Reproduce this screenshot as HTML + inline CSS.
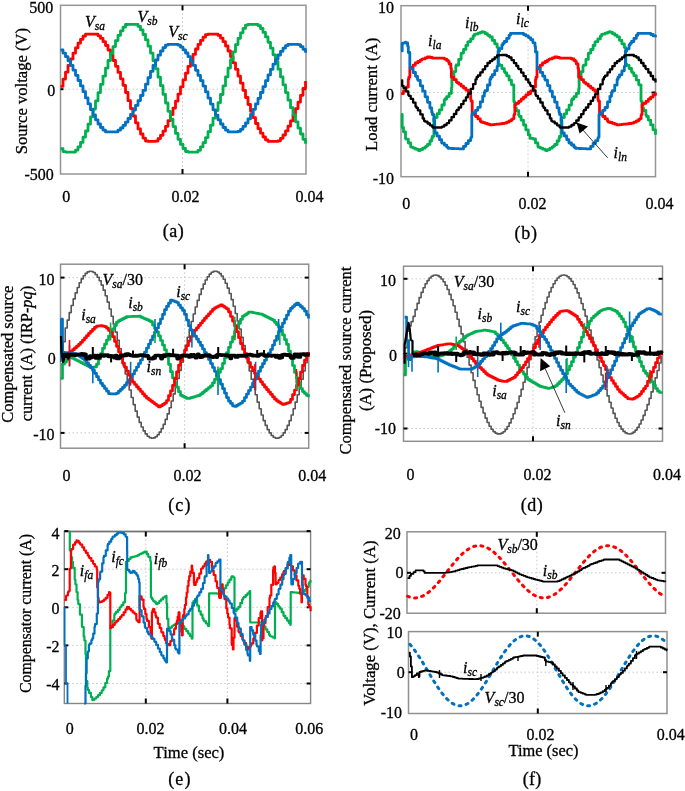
<!DOCTYPE html>
<html><head><meta charset="utf-8"><style>
html,body{margin:0;padding:0;background:#fff;}
body{width:685px;height:791px;overflow:hidden;font-family:"Liberation Serif",serif;}
svg{display:block;will-change:transform;}
text{font-family:"Liberation Serif",serif;stroke:#000;stroke-width:0.3px;}
</style></head><body>
<svg width="685" height="791" viewBox="0 0 685 791" font-family="Liberation Serif" fill="#000"><rect x="60.5" y="5.3" width="245.5" height="168.7" fill="none" stroke="#959595" stroke-width="1.5"/>
<line x1="60.5" y1="89.2" x2="306" y2="89.2" stroke="#c8c8c8" stroke-width="1" stroke-dasharray="1.5,2.5"/>
<line x1="182.5" y1="5.3" x2="182.5" y2="174" stroke="#c8c8c8" stroke-width="1" stroke-dasharray="1.5,2.5"/>
<line x1="182.5" y1="169" x2="182.5" y2="174" stroke="#000" stroke-width="2"/>
<line x1="182.5" y1="5.3" x2="182.5" y2="10.3" stroke="#000" stroke-width="2"/>
<line x1="60.5" y1="89.2" x2="63.5" y2="89.2" stroke="#000" stroke-width="2"/>
<line x1="302" y1="89.2" x2="306" y2="89.2" stroke="#000" stroke-width="2"/>
<text x="53.3" y="12.7" text-anchor="end" font-size="16" >500</text>
<text x="55.2" y="96" text-anchor="end" font-size="16" >0</text>
<text x="53.8" y="179.7" text-anchor="end" font-size="16" >-500</text>
<text x="66.3" y="201.5" text-anchor="middle" font-size="16" >0</text>
<text x="185.5" y="201.5" text-anchor="middle" font-size="16" >0.02</text>
<text x="309.5" y="201.5" text-anchor="middle" font-size="16" >0.04</text>
<text x="173.3" y="237.2" text-anchor="middle" font-size="18" textLength="21.1" lengthAdjust="spacing">(a)</text>
<text x="0" y="0" transform="translate(26.8,91.15) rotate(-90)" text-anchor="middle" font-size="16" textLength="126.4" lengthAdjust="spacingAndGlyphs" >Source voltage (V)</text>
<polyline points="60.5,86.4 63.0,86.4 63.0,79.2 65.5,79.2 65.5,72.2 68.0,72.2 68.0,65.4 70.5,65.4 70.5,59.0 73.0,59.0 73.0,53.2 75.5,53.2 75.5,47.8 78.0,47.8 78.0,43.2 80.5,43.2 80.5,39.3 83.0,39.3 83.0,36.2 85.5,36.2 85.5,34.2 88.0,34.2 90.5,34.2 93.0,34.2 95.5,34.2 98.0,34.2 98.0,35.8 100.5,35.8 100.5,38.4 103.0,38.4 103.0,41.7 105.5,41.7 105.5,45.5 108.0,45.5 108.0,50.0 110.5,50.0 110.5,55.0 113.0,55.0 113.0,60.5 115.5,60.5 115.5,66.3 118.0,66.3 118.0,72.4 120.5,72.4 120.5,78.8 123.0,78.8 123.0,85.3 125.5,85.3 125.5,92.5 128.0,92.5 128.0,100.7 130.5,100.7 130.5,108.6 133.0,108.6 133.0,116.0 135.5,116.0 135.5,122.8 138.0,122.8 138.0,128.9 140.5,128.9 140.5,134.0 143.0,134.0 143.0,138.1 145.5,138.1 145.5,141.0 148.0,141.0 148.0,141.4 150.5,141.4 153.0,141.4 155.5,141.4 155.5,141.1 158.0,141.1 158.0,138.6 160.5,138.6 160.5,135.3 163.0,135.3 163.0,131.1 165.5,131.1 165.5,126.3 168.0,126.3 168.0,120.7 170.5,120.7 170.5,114.6 173.0,114.6 173.0,108.1 175.5,108.1 175.5,101.2 178.0,101.2 178.0,94.1 180.5,94.1 180.5,86.9 183.0,86.9 183.0,79.9 185.5,79.9 185.5,73.1 188.0,73.1 188.0,66.4 190.5,66.4 190.5,60.2 193.0,60.2 193.0,54.4 195.5,54.4 195.5,49.0 198.0,49.0 198.0,44.4 200.5,44.4 200.5,40.4 203.0,40.4 203.0,37.2 205.5,37.2 205.5,34.7 208.0,34.7 208.0,34.2 210.5,34.2 213.0,34.2 215.5,34.2 218.0,34.2 218.0,35.4 220.5,35.4 220.5,38.1 223.0,38.1 223.0,41.7 225.5,41.7 225.5,46.0 228.0,46.0 228.0,51.0 230.5,51.0 230.5,56.6 233.0,56.6 233.0,62.8 235.5,62.8 235.5,69.3 238.0,69.3 238.0,76.1 240.5,76.1 240.5,83.2 243.0,83.2 243.0,90.4 245.5,90.4 245.5,97.5 248.0,97.5 248.0,104.5 250.5,104.5 250.5,111.3 253.0,111.3 253.0,117.6 255.5,117.6 255.5,123.5 258.0,123.5 258.0,128.7 260.5,128.7 260.5,133.2 263.0,133.2 263.0,137.0 265.5,137.0 265.5,139.9 268.0,139.9 268.0,141.4 270.5,141.4 273.0,141.4 275.5,141.4 278.0,141.4 278.0,140.8 280.5,140.8 280.5,138.3 283.0,138.3 283.0,135.0 285.5,135.0 285.5,130.9 288.0,130.9 288.0,126.2 290.5,126.2 290.5,120.9 293.0,120.9 293.0,115.0 295.5,115.0 295.5,108.7 298.0,108.7 298.0,102.1 300.5,102.1 300.5,95.3 303.0,95.3 303.0,88.3 305.5,88.3 305.5,81.0" fill="none" stroke="#ff0000" stroke-width="2.8" stroke-linejoin="round" stroke-linecap="butt" />
<polyline points="60.5,148.7 63.0,148.7 63.0,151.6 65.5,151.6 65.5,152.1 68.0,152.1 70.5,152.1 73.0,152.1 75.5,152.1 75.5,150.2 78.0,150.2 78.0,146.8 80.5,146.8 80.5,142.4 83.0,142.4 83.0,137.1 85.5,137.1 85.5,131.0 88.0,131.0 88.0,124.2 90.5,124.2 90.5,116.9 93.0,116.9 93.0,109.1 95.5,109.1 95.5,100.9 98.0,100.9 98.0,92.6 100.5,92.6 100.5,84.3 103.0,84.3 103.0,76.1 105.5,76.1 105.5,68.1 108.0,68.1 108.0,60.5 110.5,60.5 110.5,53.3 113.0,53.3 113.0,46.6 115.5,46.6 115.5,40.6 118.0,40.6 118.0,35.3 120.5,35.3 120.5,30.8 123.0,30.8 123.0,27.2 125.5,27.2 125.5,24.5 128.0,24.5 128.0,24.3 130.5,24.3 133.0,24.3 135.5,24.3 138.0,24.3 138.0,26.4 140.5,26.4 140.5,29.9 143.0,29.9 143.0,34.5 145.5,34.5 145.5,39.9 148.0,39.9 148.0,46.2 150.5,46.2 150.5,53.1 153.0,53.1 153.0,60.7 155.5,60.7 155.5,68.8 158.0,68.8 158.0,77.2 160.5,77.2 160.5,85.7 163.0,85.7 163.0,94.4 165.5,94.4 165.5,103.0 168.0,103.0 168.0,111.3 170.5,111.3 170.5,119.2 173.0,119.2 173.0,126.6 175.5,126.6 175.5,133.4 178.0,133.4 178.0,139.3 180.5,139.3 180.5,144.4 183.0,144.4 183.0,148.5 185.5,148.5 185.5,151.5 188.0,151.5 188.0,152.1 190.5,152.1 193.0,152.1 195.5,152.1 198.0,152.1 198.0,150.3 200.5,150.3 200.5,146.9 203.0,146.9 203.0,142.7 205.5,142.7 205.5,137.6 208.0,137.6 208.0,131.7 210.5,131.7 210.5,125.2 213.0,125.2 213.0,118.1 215.5,118.1 215.5,110.5 218.0,110.5 218.0,102.6 220.5,102.6 220.5,94.5 223.0,94.5 223.0,85.9 225.5,85.9 225.5,76.9 228.0,76.9 228.0,68.1 230.5,68.1 230.5,59.7 233.0,59.7 233.0,51.8 235.5,51.8 235.5,44.6 238.0,44.6 238.0,38.3 240.5,38.3 240.5,32.8 243.0,32.8 243.0,28.4 245.5,28.4 245.5,25.1 248.0,25.1 248.0,24.3 250.5,24.3 253.0,24.3 255.5,24.3 258.0,24.3 258.0,25.6 260.5,25.6 260.5,28.5 263.0,28.5 263.0,32.4 265.5,32.4 265.5,36.9 268.0,36.9 268.0,42.3 270.5,42.3 270.5,48.2 273.0,48.2 273.0,54.8 275.5,54.8 275.5,61.8 278.0,61.8 278.0,69.2 280.5,69.2 280.5,76.9 283.0,76.9 283.0,84.8 285.5,84.8 285.5,92.6 288.0,92.6 288.0,100.2 290.5,100.2 290.5,107.7 293.0,107.7 293.0,114.9 295.5,114.9 295.5,121.8 298.0,121.8 298.0,128.1 300.5,128.1 300.5,134.0 303.0,134.0 303.0,139.3 305.5,139.3 305.5,143.8" fill="none" stroke="#00b050" stroke-width="2.8" stroke-linejoin="round" stroke-linecap="butt" />
<polyline points="60.5,49.9 63.0,49.9 63.0,53.1 65.5,53.1 65.5,56.7 68.0,56.7 68.0,60.8 70.5,60.8 70.5,65.3 73.0,65.3 73.0,70.2 75.5,70.2 75.5,75.3 78.0,75.3 78.0,80.5 80.5,80.5 80.5,85.9 83.0,85.9 83.0,91.7 85.5,91.7 85.5,97.9 88.0,97.9 88.0,103.9 90.5,103.9 90.5,109.7 93.0,109.7 93.0,115.0 95.5,115.0 95.5,119.8 98.0,119.8 98.0,124.0 100.5,124.0 100.5,127.5 103.0,127.5 103.0,130.2 105.5,130.2 105.5,131.9 108.0,131.9 110.5,131.9 113.0,131.9 115.5,131.9 115.5,131.8 118.0,131.8 118.0,130.2 120.5,130.2 120.5,128.0 123.0,128.0 123.0,125.3 125.5,125.3 125.5,122.1 128.0,122.1 128.0,118.5 130.5,118.5 130.5,114.4 133.0,114.4 133.0,110.1 135.5,110.1 135.5,105.4 138.0,105.4 138.0,100.6 140.5,100.6 140.5,95.5 143.0,95.5 143.0,90.4 145.5,90.4 145.5,84.2 148.0,84.2 148.0,77.6 150.5,77.6 150.5,71.4 153.0,71.4 153.0,65.4 155.5,65.4 155.5,60.0 158.0,60.0 158.0,55.2 160.5,55.2 160.5,51.0 163.0,51.0 163.0,47.6 165.5,47.6 165.5,45.1 168.0,45.1 168.0,44.3 170.5,44.3 173.0,44.3 175.5,44.3 178.0,44.3 178.0,45.2 180.5,45.2 180.5,47.2 183.0,47.2 183.0,49.9 185.5,49.9 185.5,53.0 188.0,53.0 188.0,56.7 190.5,56.7 190.5,60.9 193.0,60.9 193.0,65.4 195.5,65.4 195.5,70.3 198.0,70.3 198.0,75.4 200.5,75.4 200.5,80.7 203.0,80.7 203.0,86.1 205.5,86.1 205.5,91.9 208.0,91.9 208.0,98.1 210.5,98.1 210.5,104.1 213.0,104.1 213.0,109.8 215.5,109.8 215.5,115.1 218.0,115.1 218.0,119.8 220.5,119.8 220.5,124.0 223.0,124.0 223.0,127.5 225.5,127.5 225.5,130.2 228.0,130.2 228.0,131.8 230.5,131.8 230.5,131.9 233.0,131.9 235.5,131.9 238.0,131.9 238.0,131.4 240.5,131.4 240.5,129.3 243.0,129.3 243.0,126.4 245.5,126.4 245.5,123.0 248.0,123.0 248.0,118.9 250.5,118.9 250.5,114.3 253.0,114.3 253.0,109.3 255.5,109.3 255.5,103.9 258.0,103.9 258.0,98.3 260.5,98.3 260.5,92.5 263.0,92.5 263.0,86.6 265.5,86.6 265.5,80.7 268.0,80.7 268.0,74.9 270.5,74.9 270.5,69.3 273.0,69.3 273.0,64.1 275.5,64.1 275.5,59.3 278.0,59.3 278.0,55.0 280.5,55.0 280.5,51.3 283.0,51.3 283.0,48.2 285.5,48.2 285.5,45.7 288.0,45.7 288.0,44.3 290.5,44.3 293.0,44.3 295.5,44.3 298.0,44.3 298.0,44.6 300.5,44.6 300.5,46.6 303.0,46.6 303.0,49.3 305.5,49.3 305.5,52.7" fill="none" stroke="#0070c0" stroke-width="2.8" stroke-linejoin="round" stroke-linecap="butt" />
<text x="85" y="26.5" font-size="16" font-style="italic">V<tspan font-size="11.5" dy="3">sa</tspan></text>
<text x="137.5" y="21.8" font-size="16" font-style="italic">V<tspan font-size="11.5" dy="3">sb</tspan></text>
<text x="168.2" y="37.2" font-size="16" font-style="italic">V<tspan font-size="11.5" dy="3">sc</tspan></text>
<rect x="401" y="5.7" width="254.5" height="171.0" fill="none" stroke="#959595" stroke-width="1.5"/>
<line x1="401" y1="92.5" x2="655.5" y2="92.5" stroke="#c8c8c8" stroke-width="1" stroke-dasharray="1.5,2.5"/>
<line x1="528" y1="5.7" x2="528" y2="176.7" stroke="#c8c8c8" stroke-width="1" stroke-dasharray="1.5,2.5"/>
<line x1="528" y1="171.7" x2="528" y2="176.7" stroke="#000" stroke-width="2"/>
<line x1="528" y1="5.7" x2="528" y2="10.7" stroke="#000" stroke-width="2"/>
<line x1="651.5" y1="92.5" x2="655.5" y2="92.5" stroke="#000" stroke-width="2"/>
<text x="394" y="13.2" text-anchor="end" font-size="16" >10</text>
<text x="394" y="99.8" text-anchor="end" font-size="16" >0</text>
<text x="394" y="183.9" text-anchor="end" font-size="16" >-10</text>
<text x="406.3" y="209" text-anchor="middle" font-size="16" >0</text>
<text x="532.5" y="209" text-anchor="middle" font-size="16" >0.02</text>
<text x="659.5" y="209" text-anchor="middle" font-size="16" >0.04</text>
<text x="525.8" y="239.4" text-anchor="middle" font-size="18" textLength="22.6" lengthAdjust="spacing">(b)</text>
<text x="0" y="0" transform="translate(377,94.35) rotate(-90)" text-anchor="middle" font-size="16" textLength="113.1" lengthAdjust="spacingAndGlyphs" >Load current (A)</text>
<rect x="60.5" y="264.2" width="248.2" height="184.0" fill="none" stroke="#909090" stroke-width="1.5"/>
<line x1="60.5" y1="277.6" x2="308.7" y2="277.6" stroke="#c8c8c8" stroke-width="1" stroke-dasharray="1.5,2.5"/>
<line x1="60.5" y1="277.6" x2="64.5" y2="277.6" stroke="#000" stroke-width="2"/>
<line x1="304.7" y1="277.6" x2="308.7" y2="277.6" stroke="#000" stroke-width="2"/>
<line x1="60.5" y1="355.5" x2="308.7" y2="355.5" stroke="#c8c8c8" stroke-width="1" stroke-dasharray="1.5,2.5"/>
<line x1="60.5" y1="355.5" x2="64.5" y2="355.5" stroke="#000" stroke-width="2"/>
<line x1="304.7" y1="355.5" x2="308.7" y2="355.5" stroke="#000" stroke-width="2"/>
<line x1="60.5" y1="432.9" x2="308.7" y2="432.9" stroke="#c8c8c8" stroke-width="1" stroke-dasharray="1.5,2.5"/>
<line x1="60.5" y1="432.9" x2="64.5" y2="432.9" stroke="#000" stroke-width="2"/>
<line x1="304.7" y1="432.9" x2="308.7" y2="432.9" stroke="#000" stroke-width="2"/>
<line x1="184.6" y1="264.2" x2="184.6" y2="448.2" stroke="#c8c8c8" stroke-width="1" stroke-dasharray="1.5,2.5"/>
<line x1="184.6" y1="443.2" x2="184.6" y2="448.2" stroke="#000" stroke-width="2"/>
<line x1="184.6" y1="264.2" x2="184.6" y2="269.2" stroke="#000" stroke-width="2"/>
<text x="54.5" y="284.8" text-anchor="end" font-size="16" >10</text>
<text x="55.7" y="363.9" text-anchor="end" font-size="16" >0</text>
<text x="54.5" y="439.6" text-anchor="end" font-size="16" >-10</text>
<text x="66.5" y="480.6" text-anchor="middle" font-size="16" >0</text>
<text x="187.5" y="480.6" text-anchor="middle" font-size="16" >0.02</text>
<text x="312.3" y="480.6" text-anchor="middle" font-size="16" >0.04</text>
<text x="179.35" y="510.9" text-anchor="middle" font-size="18" textLength="22.2" lengthAdjust="spacing">(c)</text>
<text x="0" y="0" transform="translate(12.8,354.1) rotate(-90)" text-anchor="middle" font-size="16" textLength="137.1" lengthAdjust="spacingAndGlyphs" >Compensated source</text>
<text x="0" y="0" transform="translate(32.3,353.5) rotate(-90)" text-anchor="middle" font-size="16" textLength="135.4" lengthAdjust="spacingAndGlyphs" >current (A) (IRP-<tspan font-style="italic">pq</tspan>)</text>
<rect x="403.5" y="266.2" width="259.0" height="175.10000000000002" fill="none" stroke="#909090" stroke-width="1.5"/>
<line x1="403.5" y1="278.8" x2="662.5" y2="278.8" stroke="#c8c8c8" stroke-width="1" stroke-dasharray="1.5,2.5"/>
<line x1="403.5" y1="278.8" x2="407.5" y2="278.8" stroke="#000" stroke-width="2"/>
<line x1="658.5" y1="278.8" x2="662.5" y2="278.8" stroke="#000" stroke-width="2"/>
<line x1="403.5" y1="353.6" x2="662.5" y2="353.6" stroke="#c8c8c8" stroke-width="1" stroke-dasharray="1.5,2.5"/>
<line x1="403.5" y1="353.6" x2="407.5" y2="353.6" stroke="#000" stroke-width="2"/>
<line x1="658.5" y1="353.6" x2="662.5" y2="353.6" stroke="#000" stroke-width="2"/>
<line x1="403.5" y1="428.5" x2="662.5" y2="428.5" stroke="#c8c8c8" stroke-width="1" stroke-dasharray="1.5,2.5"/>
<line x1="403.5" y1="428.5" x2="407.5" y2="428.5" stroke="#000" stroke-width="2"/>
<line x1="658.5" y1="428.5" x2="662.5" y2="428.5" stroke="#000" stroke-width="2"/>
<line x1="533" y1="266.2" x2="533" y2="441.3" stroke="#c8c8c8" stroke-width="1" stroke-dasharray="1.5,2.5"/>
<line x1="533" y1="436.3" x2="533" y2="441.3" stroke="#000" stroke-width="2"/>
<line x1="533" y1="266.2" x2="533" y2="271.2" stroke="#000" stroke-width="2"/>
<text x="396" y="285.6" text-anchor="end" font-size="16" >10</text>
<text x="397" y="361.3" text-anchor="end" font-size="16" >0</text>
<text x="396" y="433.9" text-anchor="end" font-size="16" >-10</text>
<text x="410.6" y="479.7" text-anchor="middle" font-size="16" >0</text>
<text x="537.5" y="479.7" text-anchor="middle" font-size="16" >0.02</text>
<text x="667" y="479.7" text-anchor="middle" font-size="16" >0.04</text>
<text x="531.8" y="510.9" text-anchor="middle" font-size="18" textLength="22.0" lengthAdjust="spacing">(d)</text>
<text x="0" y="0" transform="translate(351,360.55) rotate(-90)" text-anchor="middle" font-size="16" textLength="187.9" lengthAdjust="spacingAndGlyphs" >Compensated source current</text>
<text x="0" y="0" transform="translate(371.4,360.55) rotate(-90)" text-anchor="middle" font-size="16" textLength="101.1" lengthAdjust="spacingAndGlyphs" >(A) (Proposed)</text>
<rect x="64.3" y="531.5" width="246.3" height="172.0" fill="none" stroke="#858585" stroke-width="1.4"/>
<line x1="64.3" y1="531.5" x2="310.6" y2="531.5" stroke="#727272" stroke-width="1.5"/>
<line x1="64.3" y1="531.0999999999999" x2="68.3" y2="531.0999999999999" stroke="#000" stroke-width="2"/>
<line x1="306.6" y1="531.0999999999999" x2="310.6" y2="531.0999999999999" stroke="#000" stroke-width="2"/>
<line x1="64.3" y1="569.1999999999999" x2="310.6" y2="569.1999999999999" stroke="#c8c8c8" stroke-width="1" stroke-dasharray="1.5,2.5"/>
<line x1="64.3" y1="569.1999999999999" x2="68.3" y2="569.1999999999999" stroke="#000" stroke-width="2"/>
<line x1="306.6" y1="569.1999999999999" x2="310.6" y2="569.1999999999999" stroke="#000" stroke-width="2"/>
<line x1="64.3" y1="607.3" x2="310.6" y2="607.3" stroke="#c8c8c8" stroke-width="1" stroke-dasharray="1.5,2.5"/>
<line x1="64.3" y1="607.3" x2="68.3" y2="607.3" stroke="#000" stroke-width="2"/>
<line x1="306.6" y1="607.3" x2="310.6" y2="607.3" stroke="#000" stroke-width="2"/>
<line x1="64.3" y1="645.4" x2="310.6" y2="645.4" stroke="#c8c8c8" stroke-width="1" stroke-dasharray="1.5,2.5"/>
<line x1="64.3" y1="645.4" x2="68.3" y2="645.4" stroke="#000" stroke-width="2"/>
<line x1="306.6" y1="645.4" x2="310.6" y2="645.4" stroke="#000" stroke-width="2"/>
<line x1="64.3" y1="683.5" x2="310.6" y2="683.5" stroke="#c8c8c8" stroke-width="1" stroke-dasharray="1.5,2.5"/>
<line x1="64.3" y1="683.5" x2="68.3" y2="683.5" stroke="#000" stroke-width="2"/>
<line x1="306.6" y1="683.5" x2="310.6" y2="683.5" stroke="#000" stroke-width="2"/>
<line x1="145.8" y1="531.5" x2="145.8" y2="703.5" stroke="#c8c8c8" stroke-width="1" stroke-dasharray="1.5,2.5"/>
<line x1="145.8" y1="698.5" x2="145.8" y2="703.5" stroke="#000" stroke-width="2"/>
<line x1="145.8" y1="531.5" x2="145.8" y2="536.5" stroke="#000" stroke-width="2"/>
<line x1="227.4" y1="531.5" x2="227.4" y2="703.5" stroke="#c8c8c8" stroke-width="1" stroke-dasharray="1.5,2.5"/>
<line x1="227.4" y1="698.5" x2="227.4" y2="703.5" stroke="#000" stroke-width="2"/>
<line x1="227.4" y1="531.5" x2="227.4" y2="536.5" stroke="#000" stroke-width="2"/>
<text x="59.5" y="538.5999999999999" text-anchor="end" font-size="16" >4</text>
<text x="59.5" y="575.4999999999999" text-anchor="end" font-size="16" >2</text>
<text x="59.5" y="613.5999999999999" text-anchor="end" font-size="16" >0</text>
<text x="59.5" y="651.6999999999999" text-anchor="end" font-size="16" >-2</text>
<text x="59.5" y="689.8" text-anchor="end" font-size="16" >-4</text>
<text x="69.8" y="734" text-anchor="middle" font-size="16" >0</text>
<text x="150.5" y="734" text-anchor="middle" font-size="16" >0.02</text>
<text x="233" y="734" text-anchor="middle" font-size="16" >0.04</text>
<text x="309.2" y="734" text-anchor="middle" font-size="16" >0.06</text>
<text x="189" y="757.8" text-anchor="middle" font-size="16" textLength="70.8" lengthAdjust="spacingAndGlyphs">Time (sec)</text>
<text x="179.35" y="785" text-anchor="middle" font-size="18" textLength="22.2" lengthAdjust="spacing">(e)</text>
<text x="0" y="0" transform="translate(31.2,613.5) rotate(-90)" text-anchor="middle" font-size="16" textLength="159" lengthAdjust="spacingAndGlyphs" >Compensator current (A)</text>
<rect x="407" y="531.8" width="258.5" height="81.40000000000009" fill="none" stroke="#909090" stroke-width="1.5"/>
<rect x="408.5" y="631.6" width="258.5" height="81.89999999999998" fill="none" stroke="#909090" stroke-width="1.5"/>
<line x1="407" y1="572.8" x2="665.5" y2="572.8" stroke="#c8c8c8" stroke-width="1" stroke-dasharray="1.5,2.5"/>
<line x1="407" y1="572.8" x2="411" y2="572.8" stroke="#000" stroke-width="2"/>
<line x1="661.5" y1="572.8" x2="665.5" y2="572.8" stroke="#000" stroke-width="2"/>
<line x1="408.5" y1="672.2" x2="667" y2="672.2" stroke="#c8c8c8" stroke-width="1" stroke-dasharray="1.5,2.5"/>
<line x1="408.5" y1="672.2" x2="412.5" y2="672.2" stroke="#000" stroke-width="2"/>
<line x1="663" y1="672.2" x2="667" y2="672.2" stroke="#000" stroke-width="2"/>
<line x1="536.8" y1="531.8" x2="536.8" y2="613.2" stroke="#c8c8c8" stroke-width="1" stroke-dasharray="1.5,2.5"/>
<line x1="537.8" y1="631.6" x2="537.8" y2="713.5" stroke="#c8c8c8" stroke-width="1" stroke-dasharray="1.5,2.5"/>
<line x1="536.8" y1="608.2" x2="536.8" y2="613.2" stroke="#000" stroke-width="2"/>
<line x1="536.8" y1="531.8" x2="536.8" y2="536.8" stroke="#000" stroke-width="2"/>
<line x1="537.8" y1="708.5" x2="537.8" y2="713.5" stroke="#000" stroke-width="2"/>
<line x1="537.8" y1="631.6" x2="537.8" y2="636.6" stroke="#000" stroke-width="2"/>
<text x="400.8" y="539" text-anchor="end" font-size="16" >20</text>
<text x="403.4" y="578.4" text-anchor="end" font-size="16" >0</text>
<text x="400.8" y="618.9" text-anchor="end" font-size="16" >-20</text>
<text x="402.5" y="638.2" text-anchor="end" font-size="16" >10</text>
<text x="404.7" y="678.1" text-anchor="end" font-size="16" >0</text>
<text x="402" y="718.4" text-anchor="end" font-size="16" >-10</text>
<text x="414.1" y="739.7" text-anchor="middle" font-size="16" >0</text>
<text x="540.6" y="739.7" text-anchor="middle" font-size="16" >0.02</text>
<text x="670.7" y="739.7" text-anchor="middle" font-size="16" >0.04</text>
<text x="543.5" y="755.8" text-anchor="middle" font-size="16" textLength="69.9" lengthAdjust="spacingAndGlyphs">Time (sec)</text>
<text x="532" y="785" text-anchor="middle" font-size="18" textLength="18.5" lengthAdjust="spacing">(f)</text>
<text x="0" y="0" transform="translate(375.4,623.1) rotate(-90)" text-anchor="middle" font-size="16" textLength="165.3" lengthAdjust="spacingAndGlyphs" >Voltage (V), Current (A)</text>
<polyline points="401.1,114.4 402.2,114.4 402.2,127.5 403.5,127.5 403.5,131.8 405.5,131.8 405.5,138.4 405.9,138.4 405.9,139.1 408.3,139.1 408.3,143.0 410.7,143.0 410.7,146.9 410.9,146.9 410.9,147.2 413.1,147.2 413.1,148.1 415.5,148.1 415.5,149.2 417.9,149.2 417.9,150.2 418.6,150.2 418.6,150.5 420.3,150.5 420.3,149.5 422.7,149.5 422.7,148.2 425.1,148.2 425.1,146.8 426.3,146.8 426.3,146.1 427.5,146.1 427.5,144.4 429.9,144.4 429.9,141.0 431.7,141.0 431.7,138.4 432.3,138.4 432.3,136.3 433.9,136.3 433.9,130.8 433.9,130.8 433.9,118.7 434.7,118.7 434.7,117.5 437.1,117.5 437.1,113.7 439.4,113.7 439.4,110.0 439.5,110.0 439.5,109.8 441.9,109.8 441.9,105.0 444.3,105.0 444.3,100.2 444.9,100.2 444.9,99.0 446.7,99.0 446.7,96.6 449.1,96.6 449.1,93.4 451.4,93.4 451.4,90.3 451.5,90.3 451.5,87.7 451.9,87.7 451.9,77.2 453.9,77.2 453.9,71.6 455.8,71.6 455.8,66.2 456.3,66.2 456.3,65.0 458.7,65.0 458.7,59.3 461.1,59.3 461.1,53.6 461.3,53.6 461.3,53.1 463.5,53.1 463.5,49.4 465.9,49.4 465.9,45.4 467.8,45.4 467.8,42.2 468.3,42.2 468.3,41.6 470.7,41.6 470.7,38.8 473.1,38.8 473.1,36.0 474.4,36.0 474.4,34.5 475.5,34.5 475.5,34.1 477.9,34.1 477.9,33.2 480.3,33.2 480.3,32.4 482.1,32.4 482.1,31.7 482.7,31.7 482.7,32.1 485.1,32.1 485.1,33.7 487.5,33.7 487.5,35.3 489.7,35.3 489.7,36.7 489.9,36.7 489.9,37.0 492.3,37.0 492.3,40.4 494.7,40.4 494.7,43.8 497.1,43.8 497.1,47.3 497.4,47.3 497.4,47.7 498.5,47.7 498.5,64.1 499.5,64.1 499.5,65.4 501.9,65.4 501.9,68.6 504.3,68.6 504.3,71.7 505.1,71.7 505.1,72.8 506.7,72.8 506.7,75.8 509.1,75.8 509.1,80.2 511.5,80.2 511.5,84.6 511.6,84.6 511.6,84.8 513.8,84.8 513.8,101.2 513.9,101.2 513.9,101.8 514.9,101.8 514.9,107.8 516.3,107.8 516.3,110.6 518.7,110.6 518.7,115.3 519.3,115.3 519.3,116.5 521.1,116.5 521.1,120.2 523.5,120.2 523.5,125.0 525.8,125.0 525.8,129.7 525.9,129.7 525.9,129.9 528.3,129.9 528.3,134.9 530.0,134.9 530.0,138.4 530.7,138.4 532.8,138.4 533.1,138.4 533.1,139.0 535.5,139.0 535.5,142.9 537.9,142.9 537.9,146.8 538.1,146.8 538.1,147.2 540.3,147.2 540.3,148.1 542.7,148.1 542.7,149.2 545.1,149.2 545.1,150.2 545.9,150.2 545.9,150.5 547.5,150.5 547.5,149.6 549.9,149.6 549.9,148.2 552.3,148.2 552.3,146.8 553.5,146.8 553.5,146.1 554.7,146.1 554.7,144.5 557.1,144.5 557.1,141.0 559.0,141.0 559.0,138.4 559.5,138.4 559.5,136.5 561.1,136.5 561.1,130.8 561.2,130.8 561.2,118.7 561.9,118.7 561.9,117.6 564.3,117.6 564.3,113.8 566.6,113.8 566.6,110.0 566.7,110.0 566.7,109.9 569.1,109.9 569.1,105.1 571.5,105.1 571.5,100.3 572.1,100.3 572.1,99.0 573.9,99.0 573.9,96.7 576.3,96.7 576.3,93.4 578.6,93.4 578.6,90.3 578.7,90.3 578.7,89.0 579.1,89.0 579.1,77.2 581.1,77.2 581.1,71.7 583.0,71.7 583.0,66.2 583.5,66.2 583.5,65.1 585.9,65.1 585.9,59.4 588.3,59.4 588.3,53.7 588.5,53.7 588.5,53.1 590.7,53.1 590.7,49.5 593.1,49.5 593.1,45.5 595.0,45.5 595.0,42.2 595.5,42.2 595.5,41.7 597.9,41.7 597.9,38.9 600.3,38.9 600.3,36.1 601.6,36.1 601.6,34.5 602.7,34.5 602.7,34.1 605.1,34.1 605.1,33.2 607.5,33.2 607.5,32.4 609.4,32.4 609.4,31.7 609.9,31.7 609.9,32.1 612.3,32.1 612.3,33.6 614.7,33.6 614.7,35.2 617.0,35.2 617.0,36.7 617.1,36.7 617.1,36.9 619.5,36.9 619.5,40.3 621.9,40.3 621.9,43.8 624.3,43.8 624.3,47.2 624.6,47.2 624.6,47.7 625.8,47.7 625.8,64.1 626.7,64.1 626.7,65.4 629.1,65.4 629.1,68.5 631.5,68.5 631.5,71.7 632.4,71.7 632.4,72.8 633.9,72.8 633.9,75.7 636.3,75.7 636.3,80.1 638.7,80.1 638.7,84.5 638.9,84.5 638.9,84.8 641.0,84.8 641.0,101.2 641.1,101.2 641.1,101.5 642.1,101.5 642.1,107.8 643.5,107.8 643.5,110.5 645.9,110.5 645.9,115.2 646.5,115.2 646.5,116.5 648.3,116.5 648.3,120.1 650.7,120.1 650.7,124.9 653.0,124.9 653.0,129.7 653.1,129.7 653.1,129.8 655.5,129.8 655.5,134.8" fill="none" stroke="#00b050" stroke-width="2.8" stroke-linejoin="round" stroke-linecap="butt" />
<polyline points="401.1,93.6 403.5,93.6 403.5,90.7 405.9,90.7 405.9,87.8 406.6,87.8 406.6,87.0 408.3,87.0 408.3,79.4 408.8,79.4 408.8,77.2 409.8,77.2 409.8,68.4 410.7,68.4 410.7,67.5 413.1,67.5 413.1,65.2 415.3,65.2 415.3,63.0 415.5,63.0 415.5,62.9 417.9,62.9 417.9,61.5 420.3,61.5 420.3,60.1 421.9,60.1 421.9,59.2 422.7,59.2 422.7,58.9 425.1,58.9 425.1,57.9 427.4,57.9 427.4,57.0 427.5,57.0 427.5,57.0 429.9,57.0 429.9,57.5 432.3,57.5 432.3,58.0 432.8,58.0 432.8,58.1 434.7,58.1 437.1,58.1 439.5,58.1 441.9,58.1 442.7,58.1 444.3,58.1 444.3,59.1 446.7,59.1 446.7,60.5 448.1,60.5 448.1,61.4 449.1,61.4 449.1,64.0 450.8,64.0 450.8,68.4 451.4,68.4 451.4,77.2 451.5,77.2 451.5,77.3 453.9,77.3 453.9,79.7 456.3,79.7 456.3,82.0 456.9,82.0 456.9,82.6 458.7,82.6 458.7,84.1 461.1,84.1 461.1,86.1 463.5,86.1 463.5,88.1 465.9,88.1 465.9,90.1 468.3,90.1 468.3,92.0 468.9,92.0 468.9,92.5 470.7,92.5 470.7,99.6 471.1,99.6 471.1,101.2 472.2,101.2 472.2,113.3 473.1,113.3 473.1,114.2 475.5,114.2 475.5,116.5 477.9,116.5 477.9,118.9 480.3,118.9 480.3,121.3 481.0,121.3 481.0,122.0 482.7,122.0 482.7,122.6 485.1,122.6 485.1,123.4 487.5,123.4 487.5,124.2 489.7,124.2 489.7,124.9 489.9,124.9 489.9,124.9 492.3,124.9 492.3,124.6 494.7,124.6 494.7,124.4 496.3,124.4 496.3,124.2 497.1,124.2 497.1,124.1 499.5,124.1 499.5,123.8 501.9,123.8 501.9,123.5 504.3,123.5 504.3,123.2 505.0,123.2 505.0,123.1 506.7,123.1 506.7,122.1 509.1,122.1 509.1,120.8 511.5,120.8 511.5,119.4 512.7,119.4 512.7,118.7 513.9,118.7 513.9,115.3 514.2,115.3 514.2,114.4 514.9,114.4 514.9,104.5 516.3,104.5 516.3,103.3 518.7,103.3 518.7,101.3 521.1,101.3 521.1,99.3 521.5,99.3 521.5,99.0 523.5,99.0 523.5,97.1 525.9,97.1 525.9,94.8 528.3,94.8 528.3,92.5 528.4,92.5 528.4,93.6 530.7,93.6 530.7,90.8 533.1,90.8 533.1,87.9 533.9,87.9 533.9,87.0 535.5,87.0 535.5,79.6 536.0,79.6 536.0,77.2 537.0,77.2 537.0,68.4 537.9,68.4 537.9,67.6 540.3,67.6 540.3,65.2 542.5,65.2 542.5,63.0 542.7,63.0 542.7,62.9 545.1,62.9 545.1,61.5 547.5,61.5 547.5,60.1 549.1,60.1 549.1,59.2 549.9,59.2 549.9,58.9 552.3,58.9 552.3,57.9 554.6,57.9 554.6,57.0 554.7,57.0 554.7,57.0 557.1,57.0 557.1,57.5 559.5,57.5 559.5,58.0 560.0,58.0 560.0,58.1 561.9,58.1 564.3,58.1 566.7,58.1 569.1,58.1 570.0,58.1 571.5,58.1 571.5,59.0 573.9,59.0 573.9,60.5 575.4,60.5 575.4,61.4 576.3,61.4 576.3,63.9 578.0,63.9 578.0,68.4 578.6,68.4 578.6,77.2 578.7,77.2 578.7,77.2 581.1,77.2 581.1,79.6 583.5,79.6 583.5,82.0 584.1,82.0 584.1,82.6 585.9,82.6 585.9,84.1 588.3,84.1 588.3,86.1 590.7,86.1 590.7,88.1 590.8,88.1 590.8,88.1 593.1,88.1 593.1,90.0 595.5,90.0 595.5,92.0 596.1,92.0 596.1,92.5 597.9,92.5 597.9,99.4 598.4,99.4 598.4,101.2 599.5,101.2 599.5,113.3 600.3,113.3 600.3,114.1 602.7,114.1 602.7,116.5 602.8,116.5 602.8,116.5 605.1,116.5 605.1,118.9 607.5,118.9 607.5,121.2 608.2,121.2 608.2,122.0 609.9,122.0 609.9,122.5 612.3,122.5 612.3,123.3 614.7,123.3 614.7,124.2 617.0,124.2 617.0,124.9 617.1,124.9 617.1,124.9 619.5,124.9 619.5,124.6 621.9,124.6 621.9,124.4 623.5,124.4 623.5,124.2 624.3,124.2 624.3,124.1 626.7,124.1 626.7,123.8 629.1,123.8 629.1,123.5 631.5,123.5 631.5,123.2 632.2,123.2 632.2,123.1 633.9,123.1 633.9,122.2 636.3,122.2 636.3,120.8 638.7,120.8 638.7,119.4 640.0,119.4 640.0,118.7 641.1,118.7 641.1,115.4 641.5,115.4 641.5,114.4 642.1,114.4 642.1,104.5 643.5,104.5 643.5,103.4 645.9,103.4 645.9,101.4 648.3,101.4 648.3,99.4 648.8,99.4 648.8,99.0 650.7,99.0 650.7,97.1 653.1,97.1 653.1,94.8 655.5,94.8 655.5,92.5" fill="none" stroke="#ff0000" stroke-width="2.8" stroke-linejoin="round" stroke-linecap="butt" />
<polyline points="401.1,50.9 402.2,50.9 402.2,43.3 403.5,43.3 403.5,42.9 405.5,42.9 405.5,42.2 405.9,42.2 405.9,43.0 407.7,43.0 407.7,46.6 408.3,46.6 408.3,52.5 409.8,52.5 409.8,67.3 410.7,67.3 410.7,68.7 413.1,68.7 413.1,72.5 415.5,72.5 415.5,76.3 417.5,76.3 417.5,79.4 417.9,79.4 417.9,80.3 420.3,80.3 420.3,85.8 422.7,85.8 422.7,91.2 425.1,91.2 425.1,96.7 425.2,96.7 425.2,96.9 427.5,96.9 427.5,102.3 429.9,102.3 429.9,108.0 431.7,108.0 431.7,112.2 432.3,112.2 432.3,114.6 433.9,114.6 433.9,120.9 434.7,120.9 434.7,129.7 435.0,129.7 435.0,133.0 437.1,133.0 437.1,136.1 439.5,136.1 439.5,139.7 441.6,139.7 441.6,142.8 441.9,142.8 441.9,143.1 444.3,143.1 444.3,145.1 446.7,145.1 446.7,147.1 448.1,147.1 448.1,148.3 449.1,148.3 449.1,148.3 451.5,148.3 451.5,148.5 453.9,148.5 453.9,148.6 456.3,148.6 456.3,148.7 458.7,148.7 458.7,148.8 461.1,148.8 461.1,148.9 461.3,148.9 463.5,148.9 463.5,146.3 465.9,146.3 465.9,143.5 468.3,143.5 468.3,140.6 470.7,140.6 470.7,137.8 471.1,137.8 471.1,137.3 471.8,137.3 471.8,114.4 473.1,114.4 473.1,112.9 475.5,112.9 475.5,110.3 477.7,110.3 477.7,107.8 477.9,107.8 477.9,107.3 480.3,107.3 480.3,101.8 482.7,101.8 482.7,96.2 484.3,96.2 484.3,92.5 485.1,92.5 485.1,90.6 487.5,90.6 487.5,85.0 489.9,85.0 489.9,79.3 490.8,79.3 490.8,77.2 492.3,77.2 492.3,74.7 494.7,74.7 494.7,70.7 497.1,70.7 497.1,66.7 497.4,66.7 497.4,66.2 498.1,66.2 498.1,50.9 499.5,50.9 499.5,48.7 501.9,48.7 501.9,44.9 502.9,44.9 502.9,43.3 504.3,43.3 504.3,41.5 506.7,41.5 506.7,38.3 509.1,38.3 509.1,35.2 510.5,35.2 510.5,33.4 511.5,33.4 513.9,33.4 516.3,33.4 518.7,33.4 521.1,33.4 521.5,33.4 523.5,33.4 523.5,34.6 525.9,34.6 525.9,35.9 528.3,35.9 528.3,37.3 529.1,37.3 529.1,37.8 530.7,37.8 530.7,39.7 532.8,39.7 532.8,42.2 533.1,42.2 533.1,42.9 535.0,42.9 535.0,46.6 535.5,46.6 535.5,52.0 537.0,52.0 537.0,67.3 537.9,67.3 537.9,68.6 540.3,68.6 540.3,72.4 542.7,72.4 542.7,76.2 544.8,76.2 544.8,79.4 545.1,79.4 545.1,80.2 547.5,80.2 547.5,85.6 549.9,85.6 549.9,91.1 552.3,91.1 552.3,96.6 552.5,96.6 552.5,96.9 554.7,96.9 554.7,102.2 557.1,102.2 557.1,107.8 559.0,107.8 559.0,112.2 559.5,112.2 559.5,114.4 561.1,114.4 561.1,120.9 561.9,120.9 561.9,129.1 562.2,129.1 562.2,133.0 564.3,133.0 564.3,136.0 566.7,136.0 566.7,139.6 568.9,139.6 568.9,142.8 569.1,142.8 569.1,143.0 571.5,143.0 571.5,145.0 573.9,145.0 573.9,147.1 575.4,147.1 575.4,148.3 576.3,148.3 576.3,148.3 578.7,148.3 578.7,148.5 581.1,148.5 581.1,148.6 583.5,148.6 583.5,148.7 585.9,148.7 585.9,148.8 588.3,148.8 588.3,148.9 588.5,148.9 588.5,148.9 590.7,148.9 590.7,146.4 593.1,146.4 593.1,143.5 595.5,143.5 595.5,140.7 597.9,140.7 597.9,137.8 598.4,137.8 598.4,137.3 599.0,137.3 599.0,114.4 600.3,114.4 600.3,113.0 602.7,113.0 602.7,110.3 605.0,110.3 605.0,107.8 605.1,107.8 605.1,107.5 607.5,107.5 607.5,101.9 609.9,101.9 609.9,96.3 611.5,96.3 611.5,92.5 612.3,92.5 612.3,90.7 614.7,90.7 614.7,85.1 617.1,85.1 617.1,79.4 618.0,79.4 618.0,77.2 619.5,77.2 619.5,74.8 621.9,74.8 621.9,70.8 624.3,70.8 624.3,66.8 624.6,66.8 624.6,66.2 625.4,66.2 625.4,50.9 626.7,50.9 626.7,48.8 629.1,48.8 629.1,45.0 630.1,45.0 630.1,43.3 631.5,43.3 631.5,41.5 633.9,41.5 633.9,38.4 636.3,38.4 636.3,35.3 637.8,35.3 637.8,33.4 638.7,33.4 641.1,33.4 643.5,33.4 645.9,33.4 648.3,33.4 648.8,33.4 650.7,33.4 650.7,34.5 653.1,34.5 653.1,35.9 655.5,35.9 655.5,37.3" fill="none" stroke="#0070c0" stroke-width="2.8" stroke-linejoin="round" stroke-linecap="butt" />
<polyline points="401.1,80.5 402.2,80.5 402.2,85.9 403.5,85.9 403.5,87.9 405.9,87.9 405.9,91.4 408.3,91.4 408.3,95.0 408.8,95.0 408.8,95.8 410.7,95.8 410.7,98.8 413.1,98.8 413.1,102.6 415.5,102.6 415.5,106.4 416.4,106.4 416.4,107.8 417.9,107.8 417.9,110.4 420.3,110.4 420.3,114.4 422.7,114.4 422.7,118.5 424.1,118.5 424.1,120.9 425.1,120.9 425.1,121.7 427.5,121.7 427.5,123.5 429.9,123.5 429.9,125.3 432.3,125.3 432.3,127.1 432.8,127.1 432.8,127.5 434.7,127.5 437.1,127.5 439.5,127.5 440.5,127.5 441.9,127.5 441.9,126.6 444.3,126.6 444.3,125.0 446.7,125.0 446.7,123.4 447.1,123.4 447.1,123.1 449.1,123.1 449.1,120.4 451.5,120.4 451.5,117.2 453.9,117.2 453.9,114.0 456.3,114.0 456.3,110.8 456.9,110.8 456.9,110.0 458.7,110.0 458.7,107.5 461.1,107.5 461.1,104.1 463.5,104.1 463.5,100.7 465.9,100.7 465.9,97.4 467.8,97.4 467.8,94.7 468.3,94.7 468.3,93.7 470.7,93.7 470.7,88.9 473.1,88.9 473.1,84.2 475.5,84.2 475.5,79.4 476.6,79.4 476.6,77.2 477.9,77.2 477.9,75.5 480.3,75.5 480.3,72.4 482.7,72.4 482.7,69.3 485.1,69.3 485.1,66.1 487.5,66.1 487.5,63.0 489.9,63.0 489.9,61.1 492.3,61.1 492.3,59.3 494.7,59.3 494.7,57.4 497.1,57.4 497.1,55.5 497.4,55.5 497.4,55.3 499.5,55.3 499.5,55.2 501.9,55.2 501.9,55.0 504.0,55.0 504.0,54.9 504.3,54.9 504.3,55.0 506.7,55.0 506.7,56.2 509.1,56.2 509.1,57.4 509.4,57.4 509.4,57.5 511.5,57.5 511.5,60.1 513.9,60.1 513.9,63.1 516.3,63.1 516.3,66.0 518.2,66.0 518.2,68.4 518.7,68.4 518.7,69.1 521.1,69.1 521.1,72.6 523.5,72.6 523.5,76.1 525.8,76.1 525.8,79.4 525.9,79.4 525.9,79.5 528.3,79.5 528.3,82.6 530.0,82.6 530.0,84.8 530.7,84.8 530.7,86.1 533.1,86.1 533.1,90.4 535.5,90.4 535.5,94.8 536.0,94.8 536.0,95.8 537.9,95.8 537.9,98.7 540.3,98.7 540.3,102.5 542.7,102.5 542.7,106.3 543.6,106.3 543.6,107.8 545.1,107.8 545.1,110.3 547.5,110.3 547.5,114.3 549.9,114.3 549.9,118.4 551.4,118.4 551.4,120.9 552.3,120.9 552.3,121.6 554.7,121.6 554.7,123.4 557.1,123.4 557.1,125.3 559.5,125.3 559.5,127.1 560.0,127.1 560.0,127.5 561.9,127.5 564.3,127.5 566.7,127.5 567.8,127.5 569.1,127.5 569.1,126.6 571.5,126.6 571.5,125.0 573.9,125.0 573.9,123.4 574.4,123.4 574.4,123.1 576.3,123.1 576.3,120.5 578.7,120.5 578.7,117.3 581.1,117.3 581.1,114.1 583.5,114.1 583.5,110.9 584.1,110.9 584.1,110.0 585.9,110.0 585.9,107.5 588.3,107.5 588.3,104.2 590.7,104.2 590.7,100.8 593.1,100.8 593.1,97.4 595.0,97.4 595.0,94.7 595.5,94.7 595.5,93.8 597.9,93.8 597.9,89.0 600.3,89.0 600.3,84.3 602.7,84.3 602.7,79.5 603.9,79.5 603.9,77.2 605.1,77.2 605.1,75.6 607.5,75.6 607.5,72.4 609.9,72.4 609.9,69.3 612.3,69.3 612.3,66.2 614.7,66.2 614.7,63.1 614.8,63.1 614.8,63.0 617.1,63.0 617.1,61.2 619.5,61.2 619.5,59.3 621.9,59.3 621.9,57.4 624.3,57.4 624.3,55.6 624.6,55.6 624.6,55.3 626.7,55.3 626.7,55.2 629.1,55.2 629.1,55.0 631.2,55.0 631.2,54.9 631.5,54.9 631.5,55.0 633.9,55.0 633.9,56.2 636.3,56.2 636.3,57.3 636.6,57.3 636.6,57.5 638.7,57.5 638.7,60.0 641.1,60.0 641.1,63.0 643.5,63.0 643.5,66.0 645.5,66.0 645.5,68.4 645.9,68.4 645.9,69.1 648.3,69.1 648.3,72.5 650.7,72.5 650.7,76.0 653.0,76.0 653.0,79.4 653.1,79.4 653.1,79.5 655.5,79.5 655.5,82.6" fill="none" stroke="#000000" stroke-width="2.3" stroke-linejoin="round" stroke-linecap="butt" />
<text x="428" y="45.5" font-size="16" font-style="italic">i<tspan font-size="11.5" dy="3">la</tspan></text>
<text x="465" y="28" font-size="16" font-style="italic">i<tspan font-size="11.5" dy="3">lb</tspan></text>
<text x="516" y="23.6" font-size="16" font-style="italic">i<tspan font-size="11.5" dy="3">lc</tspan></text>
<text x="613.5" y="158.1" font-size="16" font-style="italic">i<tspan font-size="11.5" dy="3">ln</tspan></text>
<line x1="607.7" y1="157.9" x2="582" y2="129" stroke="#222" stroke-width="0.9"/>
<polygon points="576.6,122.4 579.6,133.4 588,126.4" fill="#000"/>
<polyline points="61.2,364.2 63.2,364.2 63.2,341.8 65.2,341.8 65.2,328.0 67.2,328.0 67.2,320.1 69.2,320.1 69.2,312.6 71.2,312.6 71.2,305.5 73.2,305.5 73.2,298.9 75.2,298.9 75.2,292.9 77.2,292.9 77.2,287.5 79.2,287.5 79.2,282.8 81.2,282.8 81.2,278.9 83.2,278.9 83.2,275.7 85.2,275.7 85.2,273.4 87.2,273.4 87.2,271.9 89.2,271.9 89.2,271.2 91.2,271.2 91.2,271.5 93.2,271.5 93.2,272.5 95.2,272.5 95.2,274.5 97.2,274.5 97.2,277.2 99.2,277.2 99.2,280.8 101.2,280.8 101.2,285.1 103.2,285.1 103.2,290.1 105.2,290.1 105.2,295.8 107.2,295.8 107.2,302.1 109.2,302.1 109.2,309.0 111.2,309.0 111.2,316.3 113.2,316.3 113.2,324.0 115.2,324.0 115.2,332.1 117.2,332.1 117.2,340.3 119.2,340.3 119.2,348.8 121.2,348.8 121.2,357.2 123.2,357.2 123.2,365.7 125.2,365.7 125.2,374.0 127.2,374.0 127.2,382.2 129.2,382.2 129.2,390.0 131.2,390.0 131.2,397.5 133.2,397.5 133.2,404.6 135.2,404.6 135.2,411.1 137.2,411.1 137.2,417.1 139.2,417.1 139.2,422.4 141.2,422.4 141.2,427.0 143.2,427.0 143.2,430.9 145.2,430.9 145.2,433.9 147.2,433.9 147.2,436.2 149.2,436.2 149.2,437.6 151.2,437.6 151.2,438.2 153.2,438.2 153.2,437.9 155.2,437.9 155.2,436.8 157.2,436.8 157.2,434.8 159.2,434.8 159.2,432.1 161.2,432.1 161.2,428.6 163.2,428.6 163.2,424.4 165.2,424.4 165.2,419.4 167.2,419.4 167.2,413.9 169.2,413.9 169.2,407.7 171.2,407.7 171.2,401.0 173.2,401.0 173.2,393.9 175.2,393.9 175.2,386.4 177.2,386.4 177.2,378.5 179.2,378.5 179.2,370.4 181.2,370.4 181.2,362.2 183.2,362.2 183.2,353.9 185.2,353.9 185.2,345.6 187.2,345.6 187.2,337.3 189.2,337.3 189.2,329.3 191.2,329.3 191.2,321.5 193.2,321.5 193.2,314.0 195.2,314.0 195.2,307.0 197.2,307.0 197.2,300.4 199.2,300.4 199.2,294.4 201.2,294.4 201.2,288.9 203.2,288.9 203.2,284.1 205.2,284.1 205.2,280.0 207.2,280.0 207.2,276.7 209.2,276.7 209.2,274.1 211.2,274.1 211.2,272.3 213.2,272.3 213.2,271.4 215.2,271.4 215.2,271.3 217.2,271.3 217.2,272.0 219.2,272.0 219.2,273.6 221.2,273.6 221.2,276.0 223.2,276.0 223.2,279.3 225.2,279.3 225.2,283.3 227.2,283.3 227.2,288.1 229.2,288.1 229.2,293.5 231.2,293.5 231.2,299.6 233.2,299.6 233.2,306.3 235.2,306.3 235.2,313.5 237.2,313.5 237.2,321.0 239.2,321.0 239.2,329.0 241.2,329.0 241.2,337.2 243.2,337.2 243.2,345.6 245.2,345.6 245.2,354.1 247.2,354.1 247.2,362.6 249.2,362.6 249.2,371.0 251.2,371.0 251.2,379.2 253.2,379.2 253.2,387.2 255.2,387.2 255.2,394.8 257.2,394.8 257.2,402.1 259.2,402.1 259.2,408.8 261.2,408.8 261.2,415.0 263.2,415.0 263.2,420.6 265.2,420.6 265.2,425.4 267.2,425.4 267.2,429.6 269.2,429.6 269.2,432.9 271.2,432.9 271.2,435.5 273.2,435.5 273.2,437.2 275.2,437.2 275.2,438.1 277.2,438.1 279.2,438.1 279.2,437.2 281.2,437.2 281.2,435.5 283.2,435.5 283.2,432.9 285.2,432.9 285.2,429.6 287.2,429.6 287.2,425.4 289.2,425.4 289.2,420.6 291.2,420.6 291.2,415.0 293.2,415.0 293.2,408.8 295.2,408.8 295.2,402.1 297.2,402.1 297.2,394.8 299.2,394.8 299.2,387.2 301.2,387.2 301.2,379.2 303.2,379.2 303.2,371.0 305.2,371.0 305.2,362.6 307.2,362.6 307.2,354.1" fill="none" stroke="#555555" stroke-width="1.6" stroke-linejoin="round" stroke-linecap="butt" />
<polyline points="60.5,378.5 62.5,378.5 62.5,364.1 64.5,364.1 64.5,362.1 66.5,362.1 66.5,360.0 68.5,360.0 68.5,358.0 70.5,358.0 70.5,357.5 72.5,357.5 72.5,358.5 74.5,358.5 74.5,359.5 76.5,359.5 76.5,360.5 78.5,360.5 78.5,361.5 80.5,361.5 80.5,362.6 82.5,362.6 82.5,363.6 84.5,363.6 84.5,364.6 86.5,364.6 86.5,365.6 88.5,365.6 88.5,366.6 90.5,366.6 90.5,367.6 92.5,367.6 92.5,367.4 94.5,367.4 94.5,366.9 96.5,366.9 96.5,364.2 98.5,364.2 98.5,358.9 100.5,358.9 100.5,353.7 102.5,353.7 102.5,348.4 104.5,348.4 104.5,344.2 106.5,344.2 106.5,340.1 108.5,340.1 108.5,336.1 110.5,336.1 110.5,332.3 112.5,332.3 112.5,328.9 114.5,328.9 114.5,325.6 116.5,325.6 116.5,322.2 118.5,322.2 118.5,320.7 120.5,320.7 120.5,319.7 122.5,319.7 122.5,318.7 124.5,318.7 124.5,317.7 126.5,317.7 126.5,316.7 128.5,316.7 128.5,316.6 130.5,316.6 130.5,316.5 132.5,316.5 132.5,316.4 134.5,316.4 134.5,316.4 136.5,316.4 136.5,316.3 138.5,316.3 138.5,316.2 140.5,316.2 140.5,317.1 142.5,317.1 142.5,318.0 144.5,318.0 144.5,318.9 146.5,318.9 146.5,319.7 148.5,319.7 148.5,320.6 150.5,320.6 150.5,321.7 152.5,321.7 152.5,325.1 154.5,325.1 154.5,328.4 156.5,328.4 156.5,331.8 158.5,331.8 158.5,335.9 160.5,335.9 160.5,340.5 162.5,340.5 162.5,345.1 164.5,345.1 164.5,349.8 166.5,349.8 166.5,357.0 168.5,357.0 168.5,364.3 170.5,364.3 170.5,371.7 172.5,371.7 172.5,377.9 174.5,377.9 174.5,382.5 176.5,382.5 176.5,387.1 178.5,387.1 178.5,391.7 180.5,391.7 180.5,395.4 182.5,395.4 182.5,396.4 184.5,396.4 184.5,397.4 186.5,397.4 186.5,398.4 188.5,398.4 188.5,398.3 190.5,398.3 190.5,397.7 192.5,397.7 192.5,397.1 194.5,397.1 194.5,396.5 196.5,396.5 196.5,395.9 198.5,395.9 198.5,395.3 200.5,395.3 200.5,393.9 202.5,393.9 202.5,392.3 204.5,392.3 204.5,390.7 206.5,390.7 206.5,389.1 208.5,389.1 208.5,387.5 210.5,387.5 210.5,385.9 212.5,385.9 212.5,382.8 214.5,382.8 214.5,379.3 216.5,379.3 216.5,375.8 218.5,375.8 218.5,372.3 220.5,372.3 220.5,368.7 222.5,368.7 222.5,363.4 224.5,363.4 224.5,358.0 226.5,358.0 226.5,352.7 228.5,352.7 228.5,347.4 230.5,347.4 230.5,342.1 232.5,342.1 232.5,336.8 234.5,336.8 234.5,331.5 236.5,331.5 236.5,327.4 238.5,327.4 238.5,323.3 240.5,323.3 240.5,319.3 242.5,319.3 242.5,316.2 244.5,316.2 244.5,314.9 246.5,314.9 246.5,313.5 248.5,313.5 248.5,312.2 250.5,312.2 250.5,312.2 252.5,312.2 252.5,312.6 254.5,312.6 254.5,313.0 256.5,313.0 256.5,313.4 258.5,313.4 258.5,313.8 260.5,313.8 260.5,314.2 262.5,314.2 262.5,315.1 264.5,315.1 264.5,316.1 266.5,316.1 266.5,317.1 268.5,317.1 268.5,318.1 270.5,318.1 270.5,319.1 272.5,319.1 272.5,320.1 274.5,320.1 274.5,322.3 276.5,322.3 276.5,324.7 278.5,324.7 278.5,327.1 280.5,327.1 280.5,330.2 282.5,330.2 282.5,334.9 284.5,334.9 284.5,339.6 286.5,339.6 286.5,344.3 288.5,344.3 288.5,351.0 290.5,351.0 290.5,358.2 292.5,358.2 292.5,365.5 294.5,365.5 294.5,372.4 296.5,372.4 296.5,377.8 298.5,377.8 298.5,383.1 300.5,383.1 300.5,388.5 302.5,388.5 302.5,391.6 304.5,391.6 304.5,393.5 306.5,393.5 306.5,395.4 308.5,395.4 308.5,397.3" fill="none" stroke="#00b050" stroke-width="2.7" stroke-linejoin="round" stroke-linecap="butt" />
<polyline points="60.5,355.5 62.5,355.5 62.5,355.3 64.5,355.3 64.5,355.1 66.5,355.1 66.5,354.6 68.5,354.6 68.5,353.1 70.5,353.1 70.5,351.4 72.5,351.4 72.5,349.7 74.5,349.7 74.5,347.9 76.5,347.9 76.5,346.2 78.5,346.2 78.5,344.4 80.5,344.4 80.5,342.3 82.5,342.3 82.5,340.1 84.5,340.1 84.5,337.8 86.5,337.8 86.5,335.6 88.5,335.6 88.5,333.3 90.5,333.3 90.5,331.3 92.5,331.3 92.5,329.3 94.5,329.3 94.5,327.3 96.5,327.3 96.5,326.1 98.5,326.1 98.5,325.9 100.5,325.9 100.5,325.7 102.5,325.7 102.5,326.1 104.5,326.1 104.5,326.6 106.5,326.6 106.5,328.2 108.5,328.2 108.5,330.4 110.5,330.4 110.5,332.6 112.5,332.6 112.5,336.7 114.5,336.7 114.5,341.5 116.5,341.5 116.5,346.4 118.5,346.4 118.5,352.0 120.5,352.0 120.5,358.0 122.5,358.0 122.5,363.2 124.5,363.2 124.5,367.2 126.5,367.2 126.5,371.2 128.5,371.2 128.5,375.2 130.5,375.2 130.5,379.2 132.5,379.2 132.5,382.2 134.5,382.2 134.5,384.5 136.5,384.5 136.5,386.9 138.5,386.9 138.5,389.2 140.5,389.2 140.5,391.5 142.5,391.5 142.5,393.9 144.5,393.9 144.5,396.2 146.5,396.2 146.5,398.2 148.5,398.2 148.5,399.6 150.5,399.6 150.5,401.1 152.5,401.1 152.5,402.5 154.5,402.5 154.5,404.0 156.5,404.0 156.5,405.5 158.5,405.5 158.5,406.9 160.5,406.9 160.5,405.7 162.5,405.7 162.5,404.4 164.5,404.4 164.5,403.1 166.5,403.1 166.5,400.5 168.5,400.5 168.5,395.7 170.5,395.7 170.5,390.9 172.5,390.9 172.5,385.3 174.5,385.3 174.5,378.6 176.5,378.6 176.5,371.9 178.5,371.9 178.5,365.2 180.5,365.2 180.5,360.0 182.5,360.0 182.5,355.0 184.5,355.0 184.5,350.2 186.5,350.2 186.5,345.7 188.5,345.7 188.5,341.1 190.5,341.1 190.5,336.5 192.5,336.5 192.5,332.6 194.5,332.6 194.5,330.2 196.5,330.2 196.5,327.8 198.5,327.8 198.5,325.4 200.5,325.4 200.5,323.0 202.5,323.0 202.5,320.6 204.5,320.6 204.5,318.2 206.5,318.2 206.5,316.0 208.5,316.0 208.5,313.8 210.5,313.8 210.5,311.5 212.5,311.5 212.5,309.3 214.5,309.3 214.5,307.8 216.5,307.8 216.5,306.8 218.5,306.8 218.5,305.8 220.5,305.8 220.5,304.9 222.5,304.9 222.5,306.2 224.5,306.2 224.5,307.5 226.5,307.5 226.5,308.8 228.5,308.8 228.5,311.8 230.5,311.8 230.5,316.5 232.5,316.5 232.5,321.1 234.5,321.1 234.5,325.7 236.5,325.7 236.5,331.6 238.5,331.6 238.5,337.7 240.5,337.7 240.5,343.7 242.5,343.7 242.5,349.2 244.5,349.2 244.5,353.7 246.5,353.7 246.5,358.2 248.5,358.2 248.5,362.7 250.5,362.7 250.5,367.2 252.5,367.2 252.5,370.7 254.5,370.7 254.5,373.5 256.5,373.5 256.5,376.3 258.5,376.3 258.5,379.0 260.5,379.0 260.5,381.8 262.5,381.8 262.5,384.6 264.5,384.6 264.5,387.2 266.5,387.2 266.5,389.6 268.5,389.6 268.5,392.0 270.5,392.0 270.5,394.4 272.5,394.4 272.5,396.8 274.5,396.8 274.5,399.2 276.5,399.2 276.5,400.8 278.5,400.8 278.5,402.2 280.5,402.2 280.5,403.5 282.5,403.5 282.5,404.5 284.5,404.5 284.5,403.8 286.5,403.8 286.5,403.1 288.5,403.1 288.5,402.5 290.5,402.5 290.5,399.4 292.5,399.4 292.5,394.7 294.5,394.7 294.5,390.0 296.5,390.0 296.5,385.3 298.5,385.3 298.5,378.7 300.5,378.7 300.5,372.0 302.5,372.0 302.5,365.4 304.5,365.4 304.5,360.0 306.5,360.0 306.5,355.9 308.5,355.9 308.5,351.9" fill="none" stroke="#ff0000" stroke-width="2.7" stroke-linejoin="round" stroke-linecap="butt" />
<polyline points="60.5,319.0 62.5,319.0 62.5,352.3 64.5,352.3 64.5,352.5 66.5,352.5 66.5,352.7 68.5,352.7 68.5,352.9 70.5,352.9 70.5,353.1 72.5,353.1 72.5,353.3 74.5,353.3 74.5,353.6 76.5,353.6 76.5,354.9 78.5,354.9 78.5,356.2 80.5,356.2 80.5,357.4 82.5,357.4 82.5,358.7 84.5,358.7 84.5,360.4 86.5,360.4 86.5,362.9 88.5,362.9 88.5,365.3 90.5,365.3 90.5,367.8 92.5,367.8 92.5,370.3 94.5,370.3 94.5,373.3 96.5,373.3 96.5,376.7 98.5,376.7 98.5,380.0 100.5,380.0 100.5,383.3 102.5,383.3 102.5,385.9 104.5,385.9 104.5,388.5 106.5,388.5 106.5,391.1 108.5,391.1 108.5,393.6 110.5,393.6 110.5,393.9 112.5,393.9 114.5,393.9 116.5,393.9 116.5,393.2 118.5,393.2 118.5,391.2 120.5,391.2 120.5,389.3 122.5,389.3 122.5,387.3 124.5,387.3 124.5,385.2 126.5,385.2 126.5,382.5 128.5,382.5 128.5,379.8 130.5,379.8 130.5,377.2 132.5,377.2 132.5,374.0 134.5,374.0 134.5,370.5 136.5,370.5 136.5,367.0 138.5,367.0 138.5,363.5 140.5,363.5 140.5,360.0 142.5,360.0 142.5,356.1 144.5,356.1 144.5,352.1 146.5,352.1 146.5,348.0 148.5,348.0 148.5,344.0 150.5,344.0 150.5,340.0 152.5,340.0 152.5,336.0 154.5,336.0 154.5,332.0 156.5,332.0 156.5,328.0 158.5,328.0 158.5,323.6 160.5,323.6 160.5,319.0 162.5,319.0 162.5,314.4 164.5,314.4 164.5,309.7 166.5,309.7 166.5,306.4 168.5,306.4 168.5,303.2 170.5,303.2 170.5,300.0 172.5,300.0 172.5,300.8 174.5,300.8 174.5,301.6 176.5,301.6 176.5,302.5 178.5,302.5 178.5,305.2 180.5,305.2 180.5,307.8 182.5,307.8 182.5,310.4 184.5,310.4 184.5,314.4 186.5,314.4 186.5,320.1 188.5,320.1 188.5,325.8 190.5,325.8 190.5,330.1 192.5,330.1 192.5,333.1 194.5,333.1 194.5,336.1 196.5,336.1 196.5,339.1 198.5,339.1 198.5,342.1 200.5,342.1 200.5,345.4 202.5,345.4 202.5,349.0 204.5,349.0 204.5,352.5 206.5,352.5 206.5,356.0 208.5,356.0 208.5,359.5 210.5,359.5 210.5,363.5 212.5,363.5 212.5,367.5 214.5,367.5 214.5,371.5 216.5,371.5 216.5,375.5 218.5,375.5 218.5,379.6 220.5,379.6 220.5,384.1 222.5,384.1 222.5,388.6 224.5,388.6 224.5,393.1 226.5,393.1 226.5,397.6 228.5,397.6 228.5,401.1 230.5,401.1 230.5,403.4 232.5,403.4 232.5,405.8 234.5,405.8 234.5,406.4 236.5,406.4 236.5,405.3 238.5,405.3 238.5,404.1 240.5,404.1 240.5,403.0 242.5,403.0 242.5,401.0 244.5,401.0 244.5,397.5 246.5,397.5 246.5,394.0 248.5,394.0 248.5,390.5 250.5,390.5 250.5,387.0 252.5,387.0 252.5,383.2 254.5,383.2 254.5,379.2 256.5,379.2 256.5,375.2 258.5,375.2 258.5,371.2 260.5,371.2 260.5,367.2 262.5,367.2 262.5,363.6 264.5,363.6 264.5,360.1 266.5,360.1 266.5,356.6 268.5,356.6 268.5,353.1 270.5,353.1 270.5,349.5 272.5,349.5 272.5,345.0 274.5,345.0 274.5,340.5 276.5,340.5 276.5,336.0 278.5,336.0 278.5,331.5 280.5,331.5 280.5,327.2 282.5,327.2 282.5,323.2 284.5,323.2 284.5,319.2 286.5,319.2 286.5,315.1 288.5,315.1 288.5,311.1 290.5,311.1 290.5,308.4 292.5,308.4 292.5,306.5 294.5,306.5 294.5,304.7 296.5,304.7 296.5,303.0 298.5,303.0 298.5,304.8 300.5,304.8 300.5,306.7 302.5,306.7 302.5,308.5 304.5,308.5 304.5,311.2 306.5,311.2 306.5,314.9 308.5,314.9 308.5,318.6" fill="none" stroke="#0070c0" stroke-width="2.7" stroke-linejoin="round" stroke-linecap="butt" />
<line x1="69.5" y1="345" x2="69.5" y2="366.6" stroke="#0070c0" stroke-width="1.6"/>
<line x1="92.8" y1="366.6" x2="92.8" y2="383.2" stroke="#0070c0" stroke-width="1.6"/>
<line x1="130.6" y1="361.8" x2="130.6" y2="385.6" stroke="#0070c0" stroke-width="1.6"/>
<line x1="155" y1="319" x2="155" y2="338" stroke="#0070c0" stroke-width="1.6"/>
<line x1="191.9" y1="328.6" x2="191.9" y2="347.6" stroke="#0070c0" stroke-width="1.6"/>
<line x1="218" y1="369" x2="218" y2="395" stroke="#0070c0" stroke-width="1.6"/>
<line x1="255.6" y1="361.8" x2="255.6" y2="390.4" stroke="#0070c0" stroke-width="1.6"/>
<line x1="278.6" y1="319" x2="278.6" y2="340.4" stroke="#0070c0" stroke-width="1.6"/>
<line x1="60.8" y1="319" x2="60.8" y2="362" stroke="#0070c0" stroke-width="1.6"/>
<line x1="69.5" y1="340" x2="69.5" y2="366" stroke="#ff0000" stroke-width="1.6"/>
<line x1="130.1" y1="373.7" x2="130.1" y2="385.6" stroke="#ff0000" stroke-width="1.6"/>
<line x1="234.7" y1="326" x2="234.7" y2="340" stroke="#ff0000" stroke-width="1.6"/>
<line x1="254.9" y1="364" x2="254.9" y2="390" stroke="#ff0000" stroke-width="1.6"/>
<line x1="296.4" y1="369" x2="296.4" y2="383" stroke="#ff0000" stroke-width="1.6"/>
<line x1="110.6" y1="322.6" x2="110.6" y2="340.4" stroke="#00b050" stroke-width="1.6"/>
<line x1="155" y1="331" x2="155" y2="343" stroke="#00b050" stroke-width="1.6"/>
<line x1="218" y1="366.6" x2="218" y2="388" stroke="#00b050" stroke-width="1.6"/>
<line x1="234.7" y1="316.7" x2="234.7" y2="340.4" stroke="#00b050" stroke-width="1.6"/>
<line x1="279.8" y1="333" x2="279.8" y2="345" stroke="#00b050" stroke-width="1.6"/>
<line x1="296.4" y1="376" x2="296.4" y2="390" stroke="#00b050" stroke-width="1.6"/>
<polyline points="63.0,354.8 64.2,354.8 64.2,354.5 65.4,354.5 65.4,355.3 66.6,355.3 66.6,354.5 67.8,354.5 67.8,355.0 69.0,355.0 68.3,354.5 69.5,354.5 69.5,354.9 70.7,354.9 70.7,354.5 71.9,354.5 71.9,354.5 73.1,354.5 73.1,354.9 74.3,354.9 74.3,355.3 75.5,355.3 75.5,354.6 76.7,354.6 76.7,354.7 77.9,354.7 77.6,354.5 78.8,354.5 78.8,354.3 80.0,354.3 80.0,354.8 81.2,354.8 81.2,353.9 82.4,353.9 82.4,354.7 83.6,354.7 83.6,354.2 84.8,354.2 84.8,354.4 86.0,354.4 85.0,356.1 86.2,356.1 86.2,358.6 87.4,358.6 87.4,357.3 88.6,357.3 88.6,358.6 89.8,358.6 89.8,356.1 91.0,356.1 91.0,357.3 92.2,357.3 92.0,356.8 93.2,356.8 93.2,356.8 94.4,356.8 94.4,355.5 95.6,355.5 95.6,358.0 96.8,358.0 96.8,355.5 98.0,355.5 98.0,358.0 99.2,358.0 99.2,356.8 100.4,356.8 99.8,355.5 101.0,355.5 101.0,355.1 102.2,355.1 102.2,355.4 103.4,355.4 103.4,355.8 104.6,355.8 104.6,355.2 105.8,355.2 105.8,355.5 107.0,355.5 107.0,355.0 108.2,355.0 107.9,356.1 109.1,356.1 109.1,356.4 110.3,356.4 110.3,355.9 111.5,355.9 111.5,356.3 112.7,356.3 112.7,356.2 113.9,356.2 113.9,357.6 115.1,357.6 115.1,356.1 116.3,356.1 115.6,355.5 116.8,355.5 116.8,358.5 118.0,358.5 118.0,358.5 119.2,358.5 119.2,357.0 120.4,357.0 120.4,355.3 121.6,355.3 121.6,355.4 122.8,355.4 122.8,355.7 124.0,355.7 124.0,355.0 125.2,355.0 125.2,355.5 126.4,355.5 125.2,354.4 126.4,354.4 126.4,354.1 127.6,354.1 127.6,354.2 128.8,354.2 128.8,354.6 130.0,354.6 129.4,355.1 130.6,355.1 130.6,355.5 131.8,355.5 131.8,355.5 133.0,355.5 133.0,355.9 134.2,355.9 134.2,355.8 135.4,355.8 135.1,355.7 136.3,355.7 136.3,356.0 137.5,356.0 137.5,355.7 138.7,355.7 138.7,355.4 139.9,355.4 139.9,355.2 141.1,355.2 141.1,355.1 142.3,355.1 142.3,355.2 143.5,355.2 143.5,355.7 144.7,355.7 144.2,355.7 145.4,355.7 145.4,355.8 146.6,355.8 146.6,355.7 147.8,355.7 147.3,356.1 148.5,356.1 148.5,358.6 149.7,358.6 149.7,358.6 150.9,358.6 150.9,358.6 152.1,358.6 152.1,358.6 153.3,358.6 153.3,357.3 154.5,357.3 154.0,358.0 155.2,358.0 155.2,355.5 156.4,355.5 156.4,355.5 157.6,355.5 157.6,355.5 158.8,355.5 158.8,355.5 160.0,355.5 159.8,356.1 161.0,356.1 161.0,358.6 162.2,358.6 162.2,355.6 163.4,355.6 163.4,356.4 164.6,356.4 163.5,355.1 164.7,355.1 164.7,355.4 165.9,355.4 165.9,355.0 167.1,355.0 167.1,354.9 168.3,354.9 168.3,354.6 169.5,354.6 169.5,354.9 170.7,354.9 170.7,355.4 171.9,355.4 170.8,355.1 172.0,355.1 172.0,355.1 173.2,355.1 173.2,355.3 174.4,355.3 174.4,355.3 175.6,355.3 175.6,355.8 176.8,355.8 176.8,355.5 178.0,355.5 177.2,358.6 178.4,358.6 178.4,356.1 179.6,356.1 179.6,357.3 180.8,357.3 180.8,356.1 182.0,356.1 181.6,355.5 182.8,355.5 182.8,355.5 184.0,355.5 184.0,355.5 185.2,355.5 185.2,355.8 186.4,355.8 186.4,355.3 187.6,355.3 187.6,355.5 188.8,355.5 188.8,356.9 190.0,356.9 189.5,356.3 190.7,356.3 190.7,354.9 191.9,354.9 191.9,356.3 193.1,356.3 193.1,354.9 194.3,354.9 194.3,356.3 195.5,356.3 195.5,357.7 196.7,357.7 196.7,356.3 197.9,356.3 197.7,354.4 198.9,354.4 198.9,355.8 200.1,355.8 200.1,357.2 201.3,357.2 201.2,356.9 202.4,356.9 202.4,355.5 203.6,355.5 203.6,355.8 204.8,355.8 204.8,355.1 206.0,355.1 206.0,355.4 207.2,355.4 207.2,355.7 208.4,355.7 208.4,355.2 209.6,355.2 209.6,355.9 210.8,355.9 210.1,356.5 211.3,356.5 211.3,356.9 212.5,356.9 212.5,357.1 213.7,357.1 213.7,356.5 214.9,356.5 214.9,356.5 216.1,356.5 216.1,357.1 217.3,357.1 216.2,355.4 217.4,355.4 217.4,354.5 218.6,354.5 218.6,355.0 219.8,355.0 219.8,354.9 221.0,354.9 221.0,355.1 222.2,355.1 222.2,355.0 223.4,355.0 223.4,355.0 224.6,355.0 224.2,355.2 225.4,355.2 225.4,355.5 226.6,355.5 226.6,355.0 227.8,355.0 227.8,355.8 229.0,355.8 229.0,355.7 230.2,355.7 230.2,358.3 231.4,358.3 230.6,355.5 231.8,355.5 231.8,355.5 233.0,355.5 233.0,355.5 234.2,355.5 234.2,355.5 235.4,355.5 235.4,356.9 236.6,356.9 236.6,356.9 237.8,356.9 237.8,355.5 239.0,355.5 239.0,355.9 240.2,355.9 240.1,355.7 241.3,355.7 241.3,355.8 242.5,355.8 242.5,355.5 243.7,355.5 243.7,355.8 244.9,355.8 244.9,355.9 246.1,355.9 245.6,355.0 246.8,355.0 246.8,354.5 248.0,354.5 248.0,354.9 249.2,354.9 249.2,354.6 250.4,354.6 249.5,354.6 250.7,354.6 250.7,354.9 251.9,354.9 251.9,355.2 253.1,355.2 252.5,355.7 253.7,355.7 253.7,355.5 254.9,355.5 254.9,355.5 256.1,355.5 256.1,355.8 257.3,355.8 257.3,355.9 258.5,355.9 258.5,355.1 259.7,355.1 259.4,354.6 260.6,354.6 260.6,354.4 261.8,354.4 261.8,354.4 263.0,354.4 263.0,354.6 264.2,354.6 263.7,355.3 264.9,355.3 264.9,356.0 266.1,356.0 266.1,355.6 267.3,355.6 267.3,355.2 268.5,355.2 268.5,355.3 269.7,355.3 269.7,355.5 270.9,355.5 270.9,355.8 272.1,355.8 272.1,355.5 273.3,355.5 273.1,355.5 274.3,355.5 274.3,355.5 275.5,355.5 275.5,356.8 276.7,356.8 276.7,355.5 277.9,355.5 277.9,356.8 279.1,356.8 279.1,358.0 280.3,358.0 280.3,355.5 281.5,355.5 281.0,357.4 282.2,357.4 282.2,354.9 283.4,354.9 283.4,354.7 284.6,354.7 284.6,354.6 285.8,354.6 285.8,354.9 287.0,354.9 287.0,355.2 288.2,355.2 288.2,354.5 289.4,354.5 289.4,355.3 290.6,355.3 290.3,356.9 291.5,356.9 291.5,357.9 292.7,357.9 292.7,357.9 293.9,357.9 293.9,356.6 295.1,356.6 294.4,354.4 295.6,354.4 295.6,355.6 296.8,355.6 296.8,354.4 298.0,354.4 298.0,356.9 299.2,356.9 299.2,356.9 300.4,356.9 299.9,354.4 301.1,354.4 301.1,354.4 302.3,354.4 302.3,354.0 303.5,354.0 303.5,354.2 304.7,354.2 304.7,354.8 305.9,354.8 305.9,354.1 307.1,354.1 307.1,354.6 308.3,354.6 308.3,354.7 309.5,354.7" fill="none" stroke="#000000" stroke-width="3.7" stroke-linejoin="round" stroke-linecap="butt" />
<polyline points="61.0,336.0 61.5,352.0 63.0,362.0 65.5,356.0 68.2,358.7 70.0,355.0" fill="none" stroke="#000000" stroke-width="2.2" stroke-linejoin="round" stroke-linecap="butt" />
<line x1="92.8" y1="347" x2="92.8" y2="355" stroke="#000000" stroke-width="2.0"/>
<line x1="111.1" y1="355" x2="111.1" y2="362.4" stroke="#000000" stroke-width="2.0"/>
<line x1="133" y1="350.5" x2="133" y2="355" stroke="#000000" stroke-width="2.0"/>
<line x1="173.1" y1="348.7" x2="173.1" y2="355" stroke="#000000" stroke-width="2.0"/>
<line x1="218.2" y1="347" x2="218.2" y2="353" stroke="#000000" stroke-width="2.0"/>
<line x1="257.2" y1="350" x2="257.2" y2="355" stroke="#000000" stroke-width="2.0"/>
<line x1="264" y1="350" x2="264" y2="355" stroke="#000000" stroke-width="2.0"/>
<text x="102.5" y="284.6" font-size="16" font-style="italic">V<tspan font-size="11.5" dy="3">sa</tspan><tspan font-style="normal" dy="-3">/30</tspan></text>
<text x="81.2" y="320.2" font-size="16" font-style="italic">i<tspan font-size="11.5" dy="3">sa</tspan></text>
<text x="128.2" y="307.6" font-size="16" font-style="italic">i<tspan font-size="11.5" dy="3">sb</tspan></text>
<text x="176.2" y="297.2" font-size="16" font-style="italic">i<tspan font-size="11.5" dy="3">sc</tspan></text>
<text x="146.5" y="371.8" font-size="16" font-style="italic">i<tspan font-size="11.5" dy="3">sn</tspan></text>
<polyline points="405.1,347.8 407.1,347.8 407.1,331.1 409.1,331.1 409.1,325.9 411.1,325.9 411.1,321.6 413.1,321.6 413.1,316.4 415.1,316.4 415.1,309.6 417.1,309.6 417.1,303.4 419.1,303.4 419.1,297.6 421.1,297.6 421.1,292.4 423.1,292.4 423.1,287.8 425.1,287.8 425.1,283.8 427.1,283.8 427.1,280.6 429.1,280.6 429.1,278.0 431.1,278.0 431.1,276.3 433.1,276.3 433.1,275.3 435.1,275.3 435.1,275.0 437.1,275.0 437.1,275.6 439.1,275.6 439.1,276.9 441.1,276.9 441.1,279.0 443.1,279.0 443.1,281.8 445.1,281.8 445.1,285.3 447.1,285.3 447.1,289.5 449.1,289.5 449.1,294.4 451.1,294.4 451.1,299.8 453.1,299.8 453.1,305.8 455.1,305.8 455.1,312.3 457.1,312.3 457.1,319.2 459.1,319.2 459.1,326.4 461.1,326.4 461.1,333.9 463.1,333.9 463.1,341.6 465.1,341.6 465.1,349.4 467.1,349.4 467.1,357.3 469.1,357.3 469.1,365.1 471.1,365.1 471.1,372.8 473.1,372.8 473.1,380.4 475.1,380.4 475.1,387.7 477.1,387.7 477.1,394.7 479.1,394.7 479.1,401.3 481.1,401.3 481.1,407.4 483.1,407.4 483.1,413.0 485.1,413.0 485.1,418.1 487.1,418.1 487.1,422.5 489.1,422.5 489.1,426.2 491.1,426.2 491.1,429.3 493.1,429.3 493.1,431.6 495.1,431.6 495.1,433.1 497.1,433.1 497.1,433.9 499.1,433.9 501.1,433.9 501.1,433.1 503.1,433.1 503.1,431.7 505.1,431.7 505.1,429.4 507.1,429.4 507.1,426.5 509.1,426.5 509.1,422.9 511.1,422.9 511.1,418.7 513.1,418.7 513.1,413.8 515.1,413.8 515.1,408.4 517.1,408.4 517.1,402.5 519.1,402.5 519.1,396.1 521.1,396.1 521.1,389.4 523.1,389.4 523.1,382.3 525.1,382.3 525.1,374.9 527.1,374.9 527.1,367.4 529.1,367.4 529.1,359.7 531.1,359.7 531.1,352.0 533.1,352.0 533.1,344.3 535.1,344.3 535.1,336.7 537.1,336.7 537.1,329.3 539.1,329.3 539.1,322.1 541.1,322.1 541.1,315.2 543.1,315.2 543.1,308.7 545.1,308.7 545.1,302.6 547.1,302.6 547.1,297.0 549.1,297.0 549.1,292.0 551.1,292.0 551.1,287.5 553.1,287.5 553.1,283.7 555.1,283.7 555.1,280.5 557.1,280.5 557.1,278.0 559.1,278.0 559.1,276.3 561.1,276.3 561.1,275.3 563.1,275.3 563.1,275.0 565.1,275.0 565.1,275.5 567.1,275.5 567.1,276.7 569.1,276.7 569.1,278.6 571.1,278.6 571.1,281.2 573.1,281.2 573.1,284.5 575.1,284.5 575.1,288.4 577.1,288.4 577.1,292.9 579.1,292.9 579.1,298.0 581.1,298.0 581.1,303.5 583.1,303.5 583.1,309.6 585.1,309.6 585.1,316.1 587.1,316.1 587.1,322.9 589.1,322.9 589.1,330.0 591.1,330.0 591.1,337.3 593.1,337.3 593.1,344.8 595.1,344.8 595.1,352.4 597.1,352.4 597.1,360.0 599.1,360.0 599.1,367.6 601.1,367.6 601.1,375.0 603.1,375.0 603.1,382.2 605.1,382.2 605.1,389.2 607.1,389.2 607.1,395.9 609.1,395.9 609.1,402.2 611.1,402.2 611.1,408.0 613.1,408.0 613.1,413.4 615.1,413.4 615.1,418.2 617.1,418.2 617.1,422.5 619.1,422.5 619.1,426.1 621.1,426.1 621.1,429.1 623.1,429.1 623.1,431.4 625.1,431.4 625.1,432.9 627.1,432.9 627.1,433.8 629.1,433.8 629.1,434.0 631.1,434.0 631.1,433.4 633.1,433.4 633.1,432.1 635.1,432.1 635.1,430.1 637.1,430.1 637.1,427.4 639.1,427.4 639.1,424.0 641.1,424.0 641.1,420.0 643.1,420.0 643.1,415.4 645.1,415.4 645.1,410.2 647.1,410.2 647.1,404.6 649.1,404.6 649.1,398.4 651.1,398.4 651.1,391.9 653.1,391.9 653.1,385.1 655.1,385.1 655.1,377.9 657.1,377.9 657.1,370.5 659.1,370.5 659.1,363.0 661.1,363.0 661.1,355.5" fill="none" stroke="#555555" stroke-width="1.6" stroke-linejoin="round" stroke-linecap="butt" />
<polyline points="403.5,374.9 405.5,374.9 405.5,359.0 407.5,359.0 409.5,359.0 409.5,356.7 411.5,356.7 411.5,354.4 413.5,354.4 413.5,352.0 415.5,352.0 415.5,351.5 417.5,351.5 417.5,352.1 419.5,352.1 419.5,352.7 421.5,352.7 421.5,353.3 423.5,353.3 423.5,353.9 425.5,353.9 425.5,354.5 427.5,354.5 427.5,354.9 429.5,354.9 429.5,355.3 431.5,355.3 431.5,355.7 433.5,355.7 433.5,356.1 435.5,356.1 435.5,356.5 437.5,356.5 437.5,356.6 439.5,356.6 439.5,356.0 441.5,356.0 441.5,355.3 443.5,355.3 443.5,354.6 445.5,354.6 445.5,353.4 447.5,353.4 447.5,352.0 449.5,352.0 449.5,350.7 451.5,350.7 451.5,349.0 453.5,349.0 453.5,347.0 455.5,347.0 455.5,345.0 457.5,345.0 457.5,343.0 459.5,343.0 459.5,341.3 461.5,341.3 461.5,339.6 463.5,339.6 463.5,337.8 465.5,337.8 465.5,336.1 467.5,336.1 467.5,334.8 469.5,334.8 469.5,334.0 471.5,334.0 471.5,333.1 473.5,333.1 473.5,332.2 475.5,332.2 475.5,331.4 477.5,331.4 477.5,331.1 479.5,331.1 479.5,330.8 481.5,330.8 481.5,330.5 483.5,330.5 483.5,330.2 485.5,330.2 485.5,330.3 487.5,330.3 487.5,330.7 489.5,330.7 489.5,331.1 491.5,331.1 491.5,331.5 493.5,331.5 493.5,331.9 495.5,331.9 495.5,333.8 497.5,333.8 497.5,335.8 499.5,335.8 499.5,337.8 501.5,337.8 501.5,340.2 503.5,340.2 503.5,342.9 505.5,342.9 505.5,345.6 507.5,345.6 507.5,348.4 509.5,348.4 509.5,351.7 511.5,351.7 511.5,355.0 513.5,355.0 513.5,358.3 515.5,358.3 515.5,361.7 517.5,361.7 517.5,365.0 519.5,365.0 519.5,368.4 521.5,368.4 521.5,371.5 523.5,371.5 523.5,374.1 525.5,374.1 525.5,376.8 527.5,376.8 527.5,379.4 529.5,379.4 529.5,380.6 531.5,380.6 531.5,381.8 533.5,381.8 533.5,382.9 535.5,382.9 535.5,384.1 537.5,384.1 537.5,385.3 539.5,385.3 539.5,386.3 541.5,386.3 541.5,386.8 543.5,386.8 543.5,387.3 545.5,387.3 545.5,387.8 547.5,387.8 547.5,388.3 549.5,388.3 549.5,388.0 551.5,388.0 551.5,387.4 553.5,387.4 553.5,386.7 555.5,386.7 555.5,385.6 557.5,385.6 557.5,383.6 559.5,383.6 559.5,381.6 561.5,381.6 561.5,379.6 563.5,379.6 563.5,377.6 565.5,377.6 565.5,374.1 567.5,374.1 567.5,370.0 569.5,370.0 569.5,366.0 571.5,366.0 571.5,361.7 573.5,361.7 573.5,357.1 575.5,357.1 575.5,352.4 577.5,352.4 577.5,347.7 579.5,347.7 579.5,342.4 581.5,342.4 581.5,337.1 583.5,337.1 583.5,331.7 585.5,331.7 585.5,327.6 587.5,327.6 587.5,324.3 589.5,324.3 589.5,321.0 591.5,321.0 591.5,318.0 593.5,318.0 593.5,316.2 595.5,316.2 595.5,314.5 597.5,314.5 597.5,312.7 599.5,312.7 599.5,311.0 601.5,311.0 601.5,310.0 603.5,310.0 603.5,309.4 605.5,309.4 605.5,308.9 607.5,308.9 607.5,308.3 609.5,308.3 609.5,308.7 611.5,308.7 611.5,309.6 613.5,309.6 613.5,310.4 615.5,310.4 615.5,311.3 617.5,311.3 617.5,313.5 619.5,313.5 619.5,316.2 621.5,316.2 621.5,318.9 623.5,318.9 623.5,322.2 625.5,322.2 625.5,326.9 627.5,326.9 627.5,331.5 629.5,331.5 629.5,336.2 631.5,336.2 631.5,341.5 633.5,341.5 633.5,346.8 635.5,346.8 635.5,352.1 637.5,352.1 637.5,357.1 639.5,357.1 639.5,361.7 641.5,361.7 641.5,366.4 643.5,366.4 643.5,370.8 645.5,370.8 645.5,373.4 647.5,373.4 647.5,376.1 649.5,376.1 649.5,378.7 651.5,378.7 651.5,381.9 653.5,381.9 653.5,385.2 655.5,385.2 655.5,388.5 657.5,388.5 657.5,391.2 659.5,391.2 659.5,392.5 661.5,392.5 661.5,393.8" fill="none" stroke="#00b050" stroke-width="2.7" stroke-linejoin="round" stroke-linecap="butt" />
<polyline points="403.5,356.8 405.5,356.8 405.5,356.4 407.5,356.4 407.5,355.9 409.5,355.9 409.5,355.5 411.5,355.5 411.5,355.1 413.5,355.1 413.5,354.7 415.5,354.7 415.5,354.0 417.5,354.0 417.5,353.2 419.5,353.2 419.5,352.4 421.5,352.4 421.5,351.6 423.5,351.6 423.5,350.8 425.5,350.8 425.5,350.0 427.5,350.0 427.5,349.2 429.5,349.2 429.5,348.5 431.5,348.5 431.5,347.7 433.5,347.7 433.5,346.9 435.5,346.9 435.5,346.1 437.5,346.1 437.5,345.4 439.5,345.4 439.5,345.1 441.5,345.1 441.5,344.8 443.5,344.8 443.5,344.5 445.5,344.5 445.5,344.1 447.5,344.1 447.5,343.8 449.5,343.8 449.5,343.9 451.5,343.9 451.5,344.3 453.5,344.3 453.5,344.7 455.5,344.7 455.5,345.1 457.5,345.1 457.5,345.6 459.5,345.6 459.5,347.1 461.5,347.1 461.5,348.6 463.5,348.6 463.5,350.1 465.5,350.1 465.5,351.6 467.5,351.6 467.5,353.7 469.5,353.7 469.5,356.2 471.5,356.2 471.5,358.7 473.5,358.7 473.5,361.2 475.5,361.2 475.5,363.7 477.5,363.7 477.5,365.7 479.5,365.7 479.5,367.7 481.5,367.7 481.5,369.6 483.5,369.6 483.5,371.6 485.5,371.6 485.5,373.6 487.5,373.6 487.5,375.2 489.5,375.2 489.5,376.2 491.5,376.2 491.5,377.2 493.5,377.2 493.5,378.2 495.5,378.2 495.5,379.2 497.5,379.2 497.5,380.2 499.5,380.2 499.5,380.7 501.5,380.7 501.5,381.1 503.5,381.1 503.5,381.5 505.5,381.5 505.5,381.4 507.5,381.4 507.5,380.4 509.5,380.4 509.5,379.3 511.5,379.3 511.5,378.3 513.5,378.3 513.5,377.3 515.5,377.3 515.5,375.1 517.5,375.1 517.5,372.6 519.5,372.6 519.5,370.1 521.5,370.1 521.5,367.7 523.5,367.7 523.5,365.0 525.5,365.0 525.5,361.8 527.5,361.8 527.5,358.5 529.5,358.5 529.5,355.3 531.5,355.3 531.5,351.5 533.5,351.5 533.5,347.6 535.5,347.6 535.5,343.6 537.5,343.6 537.5,339.8 539.5,339.8 539.5,336.5 541.5,336.5 541.5,333.1 543.5,333.1 543.5,329.8 545.5,329.8 545.5,327.2 547.5,327.2 547.5,324.7 549.5,324.7 549.5,322.2 551.5,322.2 551.5,319.7 553.5,319.7 553.5,317.4 555.5,317.4 555.5,315.4 557.5,315.4 557.5,313.4 559.5,313.4 559.5,311.5 561.5,311.5 561.5,311.2 563.5,311.2 563.5,310.8 565.5,310.8 565.5,310.5 567.5,310.5 567.5,311.2 569.5,311.2 569.5,312.4 571.5,312.4 571.5,313.7 573.5,313.7 573.5,314.9 575.5,314.9 575.5,316.3 577.5,316.3 577.5,319.3 579.5,319.3 579.5,322.3 581.5,322.3 581.5,325.4 583.5,325.4 583.5,328.4 585.5,328.4 585.5,331.7 587.5,331.7 587.5,335.2 589.5,335.2 589.5,338.7 591.5,338.7 591.5,342.2 593.5,342.2 593.5,345.7 595.5,345.7 595.5,349.7 597.5,349.7 597.5,353.6 599.5,353.6 599.5,357.6 601.5,357.6 601.5,361.6 603.5,361.6 603.5,365.6 605.5,365.6 605.5,369.7 607.5,369.7 607.5,373.7 609.5,373.7 609.5,377.5 611.5,377.5 611.5,380.5 613.5,380.5 613.5,383.5 615.5,383.5 615.5,386.5 617.5,386.5 617.5,389.5 619.5,389.5 619.5,391.8 621.5,391.8 621.5,393.5 623.5,393.5 623.5,395.3 625.5,395.3 625.5,397.0 627.5,397.0 627.5,398.6 629.5,398.6 629.5,398.9 631.5,398.9 631.5,399.2 633.5,399.2 633.5,398.3 635.5,398.3 635.5,397.2 637.5,397.2 637.5,396.0 639.5,396.0 639.5,394.1 641.5,394.1 641.5,391.4 643.5,391.4 643.5,388.7 645.5,388.7 645.5,386.0 647.5,386.0 647.5,381.3 649.5,381.3 649.5,376.7 651.5,376.7 651.5,372.0 653.5,372.0 653.5,367.4 655.5,367.4 655.5,362.7 657.5,362.7 657.5,358.0 659.5,358.0 659.5,353.7 661.5,353.7 661.5,350.6" fill="none" stroke="#ff0000" stroke-width="2.7" stroke-linejoin="round" stroke-linecap="butt" />
<polyline points="404.6,317.1 406.6,317.1 406.6,340.5 408.6,340.5 408.6,359.7 410.6,359.7 410.6,356.3 412.6,356.3 412.6,356.9 414.6,356.9 414.6,356.7 416.6,356.7 416.6,356.5 418.6,356.5 418.6,356.6 420.6,356.6 420.6,356.6 422.6,356.6 422.6,356.7 424.6,356.7 424.6,356.8 426.6,356.8 426.6,357.0 428.6,357.0 428.6,357.4 430.6,357.4 430.6,357.8 432.6,357.8 432.6,358.2 434.6,358.2 434.6,358.5 436.6,358.5 436.6,358.9 438.6,358.9 438.6,359.8 440.6,359.8 440.6,360.8 442.6,360.8 442.6,361.8 444.6,361.8 444.6,362.8 446.6,362.8 446.6,363.8 448.6,363.8 448.6,364.8 450.6,364.8 450.6,365.6 452.6,365.6 452.6,366.4 454.6,366.4 454.6,367.2 456.6,367.2 456.6,368.0 458.6,368.0 458.6,368.8 460.6,368.8 460.6,369.2 462.6,369.2 464.6,369.2 466.6,369.2 468.6,369.2 470.6,369.2 472.6,369.2 472.6,368.1 474.6,368.1 474.6,366.8 476.6,366.8 476.6,365.4 478.6,365.4 478.6,363.7 480.6,363.7 480.6,361.3 482.6,361.3 482.6,359.0 484.6,359.0 484.6,356.7 486.6,356.7 486.6,354.0 488.6,354.0 488.6,351.3 490.6,351.3 490.6,348.6 492.6,348.6 492.6,345.5 494.6,345.5 494.6,342.2 496.6,342.2 496.6,338.9 498.6,338.9 498.6,336.1 500.6,336.1 500.6,334.7 502.6,334.7 502.6,333.4 504.6,333.4 504.6,332.1 506.6,332.1 506.6,330.5 508.6,330.5 508.6,328.8 510.6,328.8 510.6,327.1 512.6,327.1 512.6,325.9 514.6,325.9 514.6,325.3 516.6,325.3 516.6,324.6 518.6,324.6 518.6,324.0 520.6,324.0 520.6,323.3 522.6,323.3 522.6,323.4 524.6,323.4 524.6,323.6 526.6,323.6 526.6,323.8 528.6,323.8 528.6,323.9 530.6,323.9 530.6,324.3 532.6,324.3 532.6,325.2 534.6,325.2 534.6,326.0 536.6,326.0 536.6,328.5 538.6,328.5 538.6,331.3 540.6,331.3 540.6,334.0 542.6,334.0 542.6,336.7 544.6,336.7 544.6,339.4 546.6,339.4 546.6,342.6 548.6,342.6 548.6,346.6 550.6,346.6 550.6,350.5 552.6,350.5 552.6,354.5 554.6,354.5 554.6,358.5 556.6,358.5 556.6,362.5 558.6,362.5 558.6,366.5 560.6,366.5 560.6,370.2 562.6,370.2 562.6,373.7 564.6,373.7 564.6,377.1 566.6,377.1 566.6,380.6 568.6,380.6 568.6,384.0 570.6,384.0 570.6,386.0 572.6,386.0 572.6,388.0 574.6,388.0 574.6,390.1 576.6,390.1 576.6,392.1 578.6,392.1 578.6,393.5 580.6,393.5 580.6,394.5 582.6,394.5 582.6,395.5 584.6,395.5 584.6,396.5 586.6,396.5 586.6,397.5 588.6,397.5 588.6,396.7 590.6,396.7 590.6,396.0 592.6,396.0 592.6,395.2 594.6,395.2 594.6,394.5 596.6,394.5 596.6,392.9 598.6,392.9 598.6,390.6 600.6,390.6 600.6,388.3 602.6,388.3 602.6,385.8 604.6,385.8 604.6,381.8 606.6,381.8 606.6,377.8 608.6,377.8 608.6,373.9 610.6,373.9 610.6,369.9 612.6,369.9 612.6,365.6 614.6,365.6 614.6,361.1 616.6,361.1 616.6,356.5 618.6,356.5 618.6,352.0 620.6,352.0 620.6,347.5 622.6,347.5 622.6,343.0 624.6,343.0 624.6,338.6 626.6,338.6 626.6,334.1 628.6,334.1 628.6,329.6 630.6,329.6 630.6,325.9 632.6,325.9 632.6,322.9 634.6,322.9 634.6,319.8 636.6,319.8 636.6,316.8 638.6,316.8 638.6,313.8 640.6,313.8 640.6,312.5 642.6,312.5 642.6,311.3 644.6,311.3 644.6,310.0 646.6,310.0 646.6,308.8 648.6,308.8 648.6,308.5 650.6,308.5 650.6,309.3 652.6,309.3 652.6,310.2 654.6,310.2 654.6,311.1 656.6,311.1 656.6,312.3 658.6,312.3 658.6,313.9 660.6,313.9 660.6,315.5" fill="none" stroke="#0070c0" stroke-width="2.7" stroke-linejoin="round" stroke-linecap="butt" />
<line x1="408.5" y1="356" x2="408.5" y2="367.2" stroke="#0070c0" stroke-width="1.6"/>
<line x1="412" y1="354.5" x2="412" y2="371.8" stroke="#0070c0" stroke-width="1.6"/>
<line x1="438.1" y1="356.8" x2="438.1" y2="372.6" stroke="#0070c0" stroke-width="1.6"/>
<line x1="477.7" y1="354.5" x2="477.7" y2="377" stroke="#0070c0" stroke-width="1.6"/>
<line x1="500.8" y1="322.8" x2="500.8" y2="341" stroke="#0070c0" stroke-width="1.6"/>
<line x1="540.2" y1="325" x2="540.2" y2="350" stroke="#0070c0" stroke-width="1.6"/>
<line x1="566.2" y1="359" x2="566.2" y2="393" stroke="#0070c0" stroke-width="1.6"/>
<line x1="607" y1="366" x2="607" y2="388.5" stroke="#0070c0" stroke-width="1.6"/>
<line x1="629.6" y1="311.5" x2="629.6" y2="343" stroke="#0070c0" stroke-width="1.6"/>
<line x1="405" y1="359" x2="405" y2="375" stroke="#00b050" stroke-width="1.6"/>
<line x1="456.2" y1="336.4" x2="456.2" y2="350" stroke="#00b050" stroke-width="1.6"/>
<line x1="567" y1="358" x2="567" y2="374.3" stroke="#00b050" stroke-width="1.6"/>
<line x1="584.3" y1="323" x2="584.3" y2="336.4" stroke="#00b050" stroke-width="1.6"/>
<line x1="633" y1="336" x2="633" y2="345.5" stroke="#00b050" stroke-width="1.6"/>
<line x1="650" y1="372.6" x2="650" y2="384" stroke="#00b050" stroke-width="1.6"/>
<line x1="539" y1="334" x2="539" y2="347.7" stroke="#ff0000" stroke-width="1.6"/>
<line x1="605.8" y1="372.6" x2="605.8" y2="388.5" stroke="#ff0000" stroke-width="1.6"/>
<line x1="650" y1="370" x2="650" y2="381.7" stroke="#ff0000" stroke-width="1.6"/>
<polyline points="404.6,363.8 404.6,345.0 406.5,334.0 408.5,322.8 409.7,328.5 410.8,339.9 412.5,341.0 412.5,353.5 413.5,353.5" fill="none" stroke="#000000" stroke-width="2.2" stroke-linejoin="round" stroke-linecap="butt" />
<polyline points="413.0,355.2 414.2,355.2 414.2,354.6 415.4,354.6 415.4,354.5 416.6,354.5 416.6,355.3 417.8,355.3 417.8,355.0 419.0,355.0 419.0,355.1 420.2,355.1 420.2,354.5 421.4,354.5 421.4,354.4 422.6,354.4 421.9,354.1 423.1,354.1 423.1,353.5 424.3,353.5 424.3,353.2 425.5,353.2 425.5,353.3 426.7,353.3 426.7,353.4 427.9,353.4 427.9,353.8 429.1,353.8 429.1,353.4 430.3,353.4 429.8,352.5 431.0,352.5 431.0,352.3 432.2,352.3 432.2,352.6 433.4,352.6 433.4,352.9 434.6,352.9 434.6,352.3 435.8,352.3 434.6,354.5 435.8,354.5 435.8,354.8 437.0,354.8 437.0,354.8 438.2,354.8 438.2,354.0 439.4,354.0 438.5,353.8 439.7,353.8 439.7,353.7 440.9,353.7 440.9,353.4 442.1,353.4 442.1,353.6 443.3,353.6 442.8,353.5 444.0,353.5 444.0,353.2 445.2,353.2 445.2,353.4 446.4,353.4 446.4,353.2 447.6,353.2 447.6,353.9 448.8,353.9 448.8,353.8 450.0,353.8 450.0,353.4 451.2,353.4 450.5,353.3 451.7,353.3 451.7,354.0 452.9,354.0 452.9,353.6 454.1,353.6 454.1,353.7 455.3,353.7 455.3,354.1 456.5,354.1 456.5,353.6 457.7,353.6 456.8,354.6 458.0,354.6 458.0,354.6 459.2,354.6 459.2,354.6 460.4,354.6 460.4,355.3 461.6,355.3 461.6,355.1 462.8,355.1 462.8,354.5 464.0,354.5 463.4,352.9 464.6,352.9 464.6,352.0 465.8,352.0 465.8,352.6 467.0,352.6 467.0,352.9 468.2,352.9 468.2,352.4 469.4,352.4 469.4,352.0 470.6,352.0 470.6,352.7 471.8,352.7 471.8,352.4 473.0,352.4 473.0,352.5 474.2,352.5 473.3,354.0 474.5,354.0 474.5,354.1 475.7,354.1 475.7,354.3 476.9,354.3 476.9,353.9 478.1,353.9 478.1,354.2 479.3,354.2 479.3,354.1 480.5,354.1 480.5,354.8 481.7,354.8 481.7,354.8 482.9,354.8 482.9,354.3 484.1,354.3 483.1,353.4 484.3,353.4 484.3,353.4 485.5,353.4 485.5,353.5 486.7,353.5 486.7,353.3 487.9,353.3 487.8,354.6 489.0,354.6 489.0,354.9 490.2,354.9 490.2,354.4 491.4,354.4 491.4,354.7 492.6,354.7 492.6,354.5 493.8,354.5 492.7,352.4 493.9,352.4 493.9,352.3 495.1,352.3 495.1,352.6 496.3,352.6 496.3,352.1 497.5,352.1 497.5,353.0 498.7,353.0 498.5,353.3 499.7,353.3 499.7,353.3 500.9,353.3 500.9,353.5 502.1,353.5 502.1,353.0 503.3,353.0 503.3,352.9 504.5,352.9 504.5,353.6 505.7,353.6 505.7,352.7 506.9,352.7 506.9,353.3 508.1,353.3 507.5,352.8 508.7,352.8 508.7,352.7 509.9,352.7 509.9,352.5 511.1,352.5 511.1,352.4 512.3,352.4 512.3,352.7 513.5,352.7 513.5,352.5 514.7,352.5 514.7,352.9 515.9,352.9 515.0,354.7 516.2,354.7 516.2,354.6 517.4,354.6 517.4,354.6 518.6,354.6 518.6,354.4 519.8,354.4 519.8,354.7 521.0,354.7 521.0,354.5 522.2,354.5 522.2,354.5 523.4,354.5 523.3,352.0 524.5,352.0 524.5,352.6 525.7,352.6 525.7,353.0 526.9,353.0 526.9,352.4 528.1,352.4 527.9,352.6 529.1,352.6 529.1,352.6 530.3,352.6 530.3,352.7 531.5,352.7 531.5,352.5 532.7,352.5 532.7,352.0 533.9,352.0 533.9,352.8 535.1,352.8 534.1,354.7 535.3,354.7 535.3,353.9 536.5,353.9 536.5,354.3 537.7,354.3 537.7,354.6 538.9,354.6 538.9,354.3 540.1,354.3 540.1,354.6 541.3,354.6 541.3,354.7 542.5,354.7 542.3,352.8 543.5,352.8 543.5,353.3 544.7,353.3 544.7,353.1 545.9,353.1 545.9,353.5 547.1,353.5 546.9,354.7 548.1,354.7 548.1,354.4 549.3,354.4 549.3,355.0 550.5,355.0 550.5,353.9 551.7,353.9 551.7,354.0 552.9,354.0 552.9,354.6 554.1,354.6 554.1,354.1 555.3,354.1 554.9,352.5 556.1,352.5 556.1,352.5 557.3,352.5 557.3,353.0 558.5,353.0 558.5,352.1 559.7,352.1 559.7,352.2 560.9,352.2 560.9,352.5 562.1,352.5 561.8,353.7 563.0,353.7 563.0,353.7 564.2,353.7 564.2,353.3 565.4,353.3 565.4,354.1 566.6,354.1 566.6,353.4 567.8,353.4 567.8,354.2 569.0,354.2 569.0,354.2 570.2,354.2 569.8,353.3 571.0,353.3 571.0,353.7 572.2,353.7 572.2,354.2 573.4,354.2 572.9,353.4 574.1,353.4 574.1,354.2 575.3,354.2 575.3,353.4 576.5,353.4 576.5,353.8 577.7,353.8 577.7,353.3 578.9,353.3 578.9,353.7 580.1,353.7 580.1,354.2 581.3,354.2 581.3,353.3 582.5,353.3 582.5,354.0 583.7,354.0 582.9,352.7 584.1,352.7 584.1,352.2 585.3,352.2 585.3,352.9 586.5,352.9 586.5,352.5 587.7,352.5 587.7,352.0 588.9,352.0 588.9,352.0 590.1,352.0 589.4,353.6 590.6,353.6 590.6,353.9 591.8,353.9 591.8,353.6 593.0,353.6 593.0,353.6 594.2,353.6 594.2,353.3 595.4,353.3 595.4,353.5 596.6,353.5 595.9,354.1 597.1,354.1 597.1,353.3 598.3,353.3 598.3,354.1 599.5,354.1 599.5,353.9 600.7,353.9 600.7,354.1 601.9,354.1 601.2,353.2 602.4,353.2 602.4,353.6 603.6,353.6 603.6,354.1 604.8,354.1 604.8,353.3 606.0,353.3 606.0,354.1 607.2,354.1 606.2,352.3 607.4,352.3 607.4,352.0 608.6,352.0 608.6,352.7 609.8,352.7 609.8,352.6 611.0,352.6 611.0,352.1 612.2,352.1 612.2,353.0 613.4,353.0 613.4,352.4 614.6,352.4 614.5,354.0 615.7,354.0 615.7,353.6 616.9,353.6 616.9,353.2 618.1,353.2 618.1,354.0 619.3,354.0 619.3,353.6 620.5,353.6 619.7,354.4 620.9,354.4 620.9,354.5 622.1,354.5 622.1,353.8 623.3,353.8 623.3,354.5 624.5,354.5 624.5,354.2 625.7,354.2 625.7,354.6 626.9,354.6 626.9,354.5 628.1,354.5 628.1,354.1 629.3,354.1 628.8,353.9 630.0,353.9 630.0,354.3 631.2,354.3 631.2,354.1 632.4,354.1 632.2,355.2 633.4,355.2 633.4,355.1 634.6,355.1 634.6,354.8 635.8,354.8 635.8,354.6 637.0,354.6 637.0,354.9 638.2,354.9 637.2,352.2 638.4,352.2 638.4,352.1 639.6,352.1 639.6,352.2 640.8,352.2 640.8,352.9 642.0,352.9 642.0,352.5 643.2,352.5 643.2,352.2 644.4,352.2 644.4,352.9 645.6,352.9 644.9,353.6 646.1,353.6 646.1,353.8 647.3,353.8 647.3,353.4 648.5,353.4 648.5,353.4 649.7,353.4 649.7,353.8 650.9,353.8 650.9,353.5 652.1,353.5 652.1,353.6 653.3,353.6 653.3,354.0 654.5,354.0 654.5,353.4 655.7,353.4 654.9,353.6 656.1,353.6 656.1,354.0 657.3,354.0 657.3,353.4 658.5,353.4 658.0,352.5 659.2,352.5 659.2,352.6 660.4,352.6 660.4,352.4 661.6,352.4 661.6,352.7 662.8,352.7" fill="none" stroke="#000000" stroke-width="3.8" stroke-linejoin="round" stroke-linecap="butt" />
<line x1="438.1" y1="346" x2="438.1" y2="354.5" stroke="#000000" stroke-width="2.0"/>
<line x1="456.2" y1="354.5" x2="456.2" y2="362" stroke="#000000" stroke-width="2.0"/>
<line x1="477.7" y1="346" x2="477.7" y2="354.5" stroke="#000000" stroke-width="2.0"/>
<line x1="502.6" y1="354.5" x2="502.6" y2="361" stroke="#000000" stroke-width="2.0"/>
<line x1="520.7" y1="346" x2="520.7" y2="354.5" stroke="#000000" stroke-width="2.0"/>
<line x1="566.2" y1="345.5" x2="566.2" y2="354.5" stroke="#000000" stroke-width="2.0"/>
<line x1="584.3" y1="354.5" x2="584.3" y2="362.4" stroke="#000000" stroke-width="2.0"/>
<line x1="605.8" y1="346" x2="605.8" y2="354.5" stroke="#000000" stroke-width="2.0"/>
<line x1="631.9" y1="354.5" x2="631.9" y2="361" stroke="#000000" stroke-width="2.0"/>
<line x1="650" y1="346" x2="650" y2="354.5" stroke="#000000" stroke-width="2.0"/>
<text x="453.7" y="286.6" font-size="16" font-style="italic">V<tspan font-size="11.5" dy="3">sa</tspan><tspan font-style="normal" dy="-3">/30</tspan></text>
<text x="477.5" y="319.4" font-size="16" font-style="italic">i<tspan font-size="11.5" dy="3">sb</tspan></text>
<text x="516" y="311.5" font-size="16" font-style="italic">i<tspan font-size="11.5" dy="3">sc</tspan></text>
<text x="492.2" y="396.4" font-size="16" font-style="italic">i<tspan font-size="11.5" dy="3">sa</tspan></text>
<text x="556" y="425.8" font-size="16" font-style="italic">i<tspan font-size="11.5" dy="3">sn</tspan></text>
<line x1="564.9" y1="412.8" x2="545.2" y2="368.7" stroke="#222" stroke-width="0.9"/>
<polygon points="540.6,358.1 540.1,371.3 550.2,366.2" fill="#000"/>
<polyline points="69.3,531.5 69.8,531.5 69.8,550.5 71.1,550.5 71.1,557.2 72.0,557.2 72.0,561.8 72.9,561.8 72.9,567.8 74.7,567.8 74.7,579.7 75.4,579.7 75.4,584.3 76.5,584.3 76.5,592.1 77.6,592.1 77.6,600.0 78.3,600.0 78.3,604.1 79.9,604.1 79.9,613.5 80.1,613.5 80.1,614.7 81.9,614.7 81.9,625.8 82.1,625.8 82.1,627.0 83.7,627.0 83.7,636.4 84.4,636.4 84.4,640.5 85.5,640.5 85.5,654.0 86.0,654.0 86.0,681.0 87.3,681.0 87.3,687.5 87.8,687.5 87.8,690.0 89.1,690.0 89.1,692.9 90.9,692.9 90.9,697.0 92.3,697.0 92.3,700.1 92.7,700.1 92.7,699.8 94.5,699.8 94.5,698.5 96.3,698.5 96.3,697.2 96.8,697.2 96.8,696.8 98.1,696.8 98.1,695.2 99.9,695.2 99.9,693.0 101.7,693.0 101.7,690.9 102.4,690.9 102.4,690.0 103.5,690.0 103.5,687.3 105.3,687.3 105.3,683.0 107.1,683.0 107.1,678.7 108.0,678.7 108.0,676.5 108.9,676.5 108.9,671.2 110.3,671.2 110.3,663.0 110.3,663.0 110.3,627.0 110.7,627.0 110.7,625.9 112.5,625.9 112.5,620.5 114.3,620.5 114.3,615.0 114.8,615.0 114.8,613.5 116.1,613.5 116.1,611.9 117.9,611.9 117.9,609.8 119.7,609.8 119.7,607.6 120.4,607.6 120.4,606.8 121.5,606.8 121.5,605.1 123.3,605.1 123.3,602.4 124.9,602.4 124.9,600.0 125.1,600.0 125.1,593.1 126.0,593.1 126.0,561.8 126.9,561.8 126.9,560.9 128.7,560.9 128.7,559.1 130.5,559.1 130.5,557.3 132.3,557.3 132.3,556.9 134.1,556.9 134.1,556.6 135.0,556.6 135.0,556.4 135.9,556.4 135.9,556.0 137.7,556.0 137.7,555.1 139.5,555.1 139.5,554.2 139.9,554.2 139.9,554.0 141.3,554.0 141.3,553.3 143.1,553.3 143.1,552.4 144.9,552.4 144.9,551.5 146.7,551.5 146.7,554.2 148.2,554.2 148.2,556.4 148.5,556.4 148.5,557.0 150.3,557.0 150.3,560.8 150.6,560.8 150.6,561.4 150.9,561.4 150.9,597.5 152.1,597.5 152.1,599.3 153.1,599.3 153.1,600.8 153.9,600.8 153.9,601.6 155.7,601.6 155.7,603.4 156.4,603.4 156.4,604.1 157.5,604.1 157.5,603.0 159.3,603.0 159.3,601.2 159.7,601.2 159.7,600.8 161.1,600.8 161.1,599.4 162.9,599.4 162.9,597.5 164.7,597.5 164.7,596.6 166.2,596.6 166.2,595.9 166.5,595.9 166.5,603.6 167.1,603.6 167.1,618.9 168.3,618.9 168.3,626.3 168.7,626.3 168.7,628.7 170.1,628.7 170.1,627.6 171.9,627.6 171.9,626.2 172.8,626.2 172.8,625.5 173.7,625.5 173.7,624.9 175.5,624.9 175.5,623.7 177.3,623.7 177.3,622.5 177.7,622.5 177.7,622.2 179.1,622.2 179.1,622.9 180.9,622.9 180.9,623.8 181.0,623.8 181.0,623.8 182.7,623.8 182.7,626.3 184.3,626.3 184.3,628.7 184.5,628.7 184.5,628.9 186.3,628.9 186.3,631.1 188.1,631.1 188.1,633.3 188.4,633.3 188.4,633.7 189.9,633.7 189.9,635.9 191.7,635.9 191.7,638.6 192.5,638.6 192.5,602.5 193.5,602.5 193.5,601.2 195.0,601.2 195.0,599.2 195.3,599.2 195.3,600.1 197.1,600.1 197.1,605.6 198.9,605.6 198.9,611.0 199.0,611.0 199.0,611.3 200.7,611.3 200.7,614.7 202.5,614.7 202.5,618.3 203.5,618.3 203.5,620.3 204.3,620.3 204.3,621.3 206.1,621.3 206.1,623.5 207.9,623.5 207.9,625.8 208.0,625.8 208.0,625.9 209.1,625.9 209.1,593.3 209.7,593.3 211.5,593.3 213.3,593.3 214.8,593.3 215.1,593.3 215.1,593.3 216.9,593.3 216.9,593.6 218.7,593.6 218.7,593.9 219.3,593.9 219.3,594.0 220.5,594.0 220.5,592.6 222.3,592.6 222.3,590.5 223.8,590.5 223.8,588.8 224.1,588.8 224.1,588.3 225.9,588.3 225.9,585.4 227.7,585.4 227.7,582.5 229.4,582.5 229.4,579.8 229.5,579.8 229.5,579.7 231.3,579.7 231.3,577.1 231.8,577.1 231.8,576.4 233.1,576.4 233.1,577.0 234.0,577.0 234.0,577.5 234.5,577.5 234.5,611.3 234.9,611.3 234.9,610.8 236.7,610.8 236.7,608.8 238.5,608.8 238.5,606.8 240.3,606.8 240.3,603.2 242.1,603.2 242.1,599.6 243.0,599.6 243.0,597.8 243.9,597.8 243.9,596.9 245.7,596.9 245.7,595.1 247.5,595.1 247.5,593.3 249.3,593.3 249.3,591.5 249.8,591.5 249.8,591.0 250.2,591.0 250.2,622.5 251.1,622.5 252.9,622.5 254.7,622.5 256.5,622.5 258.3,622.5 260.1,622.5 261.0,622.5 261.9,622.5 261.9,623.9 263.7,623.9 263.7,626.6 265.5,626.6 265.5,629.3 267.3,629.3 267.3,632.0 269.1,632.0 269.1,634.7 270.0,634.7 270.0,636.0 270.9,636.0 270.9,636.5 272.7,636.5 272.7,637.4 274.5,637.4 274.5,638.3 275.0,638.3 275.0,602.3 276.3,602.3 276.3,603.8 278.1,603.8 278.1,605.8 279.0,605.8 279.0,606.8 279.9,606.8 279.9,608.6 281.7,608.6 281.7,612.2 283.5,612.2 283.5,615.8 285.3,615.8 285.3,618.2 287.1,618.2 287.1,620.6 288.9,620.6 288.9,622.9 290.3,622.9 290.3,624.8 290.7,624.8 290.7,592.1 292.5,592.1 292.5,592.3 294.3,592.3 294.3,592.5 296.1,592.5 296.1,592.7 297.9,592.7 297.9,592.9 299.7,592.9 299.7,593.1 301.5,593.1 301.5,593.3 303.3,593.3 303.3,591.5 305.1,591.5 305.1,589.7 306.0,589.7 306.0,588.8 306.9,588.8 306.9,587.0 308.7,587.0 308.7,583.4 309.4,583.4 309.4,582.0 310.5,582.0 310.5,580.2 310.6,580.2 310.6,580.0" fill="none" stroke="#00b050" stroke-width="2.2" stroke-linejoin="round" stroke-linecap="butt" />
<polyline points="64.3,600.0 66.1,600.0 66.1,596.1 66.4,596.1 66.4,595.5 67.9,595.5 67.9,592.4 68.6,592.4 68.6,591.0 69.7,591.0 69.7,570.4 69.8,570.4 69.8,568.5 70.9,568.5 70.9,550.5 71.5,550.5 71.5,549.0 73.1,549.0 73.1,544.9 73.3,544.9 73.3,544.6 75.1,544.6 75.1,542.3 76.5,542.3 76.5,540.4 76.9,540.4 76.9,540.8 78.7,540.8 78.7,542.6 79.9,542.6 79.9,543.8 80.5,543.8 80.5,544.7 82.3,544.7 82.3,547.4 84.1,547.4 84.1,550.1 84.4,550.1 84.4,550.5 85.9,550.5 85.9,552.8 87.7,552.8 87.7,555.5 88.9,555.5 88.9,557.3 89.5,557.3 89.5,558.2 91.3,558.2 91.3,560.9 93.1,560.9 93.1,563.6 93.4,563.6 93.4,564.0 94.9,564.0 94.9,566.5 96.7,566.5 96.7,569.4 96.8,569.4 96.8,569.6 97.2,569.6 97.2,587.6 97.9,587.6 97.9,597.8 98.5,597.8 98.5,600.3 99.0,600.3 99.0,602.3 100.3,602.3 100.3,601.8 102.1,601.8 102.1,601.2 102.4,601.2 102.4,601.1 103.9,601.1 103.9,599.6 105.7,599.6 105.7,597.9 105.8,597.9 105.8,597.8 107.5,597.8 107.5,594.9 109.1,594.9 109.1,592.1 109.3,592.1 109.3,592.7 110.3,592.7 110.3,595.5 110.3,595.5 110.3,628.1 111.1,628.1 111.1,627.2 112.9,627.2 112.9,624.9 114.7,624.9 114.7,622.6 114.8,622.6 114.8,622.5 116.5,622.5 116.5,620.8 118.3,620.8 118.3,619.0 120.1,619.0 120.1,617.2 121.5,617.2 121.5,615.8 121.9,615.8 121.9,615.2 123.7,615.2 123.7,612.3 125.5,612.3 125.5,609.4 127.1,609.4 127.1,606.8 127.3,606.8 127.3,607.0 129.1,607.0 129.1,608.8 130.9,608.8 130.9,610.5 132.7,610.5 132.7,612.3 132.8,612.3 132.8,612.4 134.5,612.4 134.5,613.6 135.0,613.6 135.0,614.0 136.3,614.0 136.3,619.3 136.6,619.3 136.6,620.5 138.1,620.5 138.1,622.0 138.3,622.0 138.3,622.2 139.6,622.2 139.6,595.9 139.9,595.9 139.9,596.4 141.6,596.4 141.6,599.2 141.7,599.2 141.7,599.6 143.5,599.6 143.5,607.0 144.0,607.0 144.0,609.0 145.3,609.0 145.3,614.1 146.5,614.1 146.5,618.9 147.1,618.9 147.1,620.9 148.9,620.9 148.9,626.8 149.0,626.8 149.0,627.1 150.6,627.1 150.6,633.7 150.7,633.7 150.7,634.3 151.4,634.3 151.4,638.6 151.9,638.6 151.9,612.3 152.5,612.3 152.5,610.6 153.1,610.6 153.1,609.0 154.3,609.0 154.3,612.3 155.5,612.3 155.5,615.6 156.1,615.6 156.1,617.6 157.9,617.6 157.9,623.5 158.0,623.5 158.0,623.8 159.7,623.8 159.7,628.0 161.3,628.0 161.3,632.0 161.5,632.0 161.5,632.4 163.3,632.4 163.3,636.0 164.6,636.0 164.6,638.6 165.1,638.6 165.1,640.1 166.2,640.1 166.2,643.5 166.9,643.5 166.9,644.0 168.7,644.0 168.7,645.2 170.3,645.2 170.3,641.9 170.5,641.9 170.5,641.1 172.0,641.1 172.0,635.3 172.3,635.3 172.3,634.5 174.1,634.5 174.1,629.8 174.5,629.8 174.5,628.7 175.9,628.7 175.9,623.9 176.9,623.9 176.9,620.5 177.7,620.5 177.7,616.6 178.6,616.6 178.6,612.3 179.5,612.3 179.5,619.7 180.2,619.7 180.2,625.5 181.3,625.5 181.3,631.8 181.9,631.8 181.9,635.3 182.7,635.3 182.7,617.2 183.1,617.2 183.1,615.2 184.3,615.2 184.3,609.0 184.9,609.0 184.9,604.9 186.0,604.9 186.0,597.5 186.7,597.5 186.7,592.5 187.6,592.5 187.6,586.0 188.5,586.0 188.5,580.5 189.2,580.5 189.2,576.2 190.3,576.2 190.3,571.5 191.7,571.5 191.7,565.5 192.1,565.5 192.1,569.2 192.5,569.2 192.5,572.9 193.9,572.9 193.9,582.9 194.2,582.9 194.2,585.0 195.7,585.0 195.7,582.1 196.8,582.1 196.8,580.0 197.5,580.0 197.5,578.2 199.3,578.2 199.3,573.6 201.1,573.6 201.1,569.0 201.3,569.0 201.3,568.5 202.9,568.5 202.9,566.3 204.7,566.3 204.7,563.8 206.0,563.8 206.0,562.0 206.5,562.0 206.5,561.4 208.0,561.4 208.0,559.5 208.3,559.5 208.3,559.8 210.1,559.8 210.1,561.6 210.3,561.6 210.3,561.8 211.9,561.8 211.9,568.3 212.5,568.3 212.5,570.8 213.7,570.8 213.7,575.0 215.5,575.0 215.5,581.3 217.0,581.3 217.0,586.5 217.3,586.5 217.3,588.0 219.1,588.0 219.1,596.8 219.3,596.8 219.3,597.8 220.9,597.8 220.9,588.0 221.5,588.0 221.5,584.3 222.7,584.3 222.7,590.1 223.8,590.1 223.8,595.5 224.5,595.5 224.5,599.1 226.3,599.1 226.3,608.4 227.3,608.4 227.3,613.5 228.1,613.5 228.1,617.6 229.5,617.6 229.5,624.8 229.9,624.8 229.9,628.3 231.7,628.3 231.7,644.1 231.8,644.1 231.8,645.0 232.9,645.0 232.9,649.5 233.5,649.5 233.5,637.7 234.5,637.7 234.5,618.0 235.3,618.0 235.3,620.7 237.1,620.7 237.1,626.8 238.5,626.8 238.5,631.5 238.9,631.5 238.9,632.3 240.7,632.3 240.7,635.9 242.5,635.9 242.5,639.5 243.0,639.5 243.0,640.5 244.3,640.5 244.3,643.1 246.1,643.1 246.1,646.7 247.5,646.7 247.5,649.5 247.9,649.5 247.9,649.0 249.7,649.0 249.7,646.6 250.9,646.6 250.9,645.0 251.5,645.0 251.5,643.4 253.3,643.4 253.3,638.6 254.3,638.6 254.3,636.0 255.1,636.0 255.1,632.8 256.9,632.8 256.9,625.6 258.7,625.6 258.7,618.4 258.8,618.4 258.8,618.0 260.5,618.0 260.5,612.8 261.0,612.8 261.0,611.3 262.1,611.3 262.1,640.5 262.3,640.5 262.3,638.3 263.5,638.3 263.5,625.0 264.1,625.0 264.1,622.9 265.5,622.9 265.5,618.0 265.9,618.0 265.9,616.0 267.7,616.0 267.7,607.0 269.5,607.0 269.5,598.0 270.0,598.0 270.0,595.5 271.3,595.5 271.3,584.8 273.1,584.8 273.1,569.9 273.4,569.9 273.4,567.4 274.5,567.4 274.5,566.3 274.9,566.3 274.9,572.8 275.6,572.8 275.6,584.3 276.7,584.3 276.7,582.8 278.5,582.8 278.5,580.5 279.0,580.5 279.0,579.8 280.3,579.8 280.3,577.5 282.1,577.5 282.1,574.4 283.5,574.4 283.5,571.9 283.9,571.9 283.9,571.2 285.7,571.2 285.7,568.0 287.5,568.0 287.5,564.9 288.0,564.9 288.0,564.0 289.3,564.0 289.3,564.9 291.1,564.9 291.1,566.1 291.4,566.1 291.4,566.3 292.9,566.3 292.9,570.3 294.7,570.3 294.7,575.0 294.8,575.0 294.8,575.3 296.5,575.3 296.5,580.4 298.3,580.4 298.3,585.8 299.3,585.8 299.3,588.8 300.1,588.8 300.1,593.7 301.5,593.7 301.5,602.3 301.9,602.3 301.9,592.5 302.6,592.5 302.6,575.3 303.7,575.3 303.7,578.9 305.5,578.9 305.5,584.9 306.0,584.9 306.0,586.5 307.3,586.5 307.3,596.7 308.3,596.7 308.3,604.5 309.1,604.5 309.1,606.9 310.6,606.9 310.6,611.3" fill="none" stroke="#ff0000" stroke-width="2.2" stroke-linejoin="round" stroke-linecap="butt" />
<polyline points="64.6,607.0 64.6,645.0 66.0,646.5 66.0,683.0 67.5,684.5 67.5,703.5" fill="none" stroke="#0070c0" stroke-width="1.8" stroke-linejoin="round" stroke-linecap="butt" />
<polyline points="84.2,703.5 85.5,703.5 85.5,685.5 86.0,685.5 86.0,673.2 86.6,673.2 86.6,658.5 87.8,658.5 87.8,651.5 88.9,651.5 88.9,645.0 89.6,645.0 89.6,643.6 91.4,643.6 91.4,640.1 92.3,640.1 92.3,638.3 93.2,638.3 93.2,633.7 94.5,633.7 94.5,627.0 95.0,627.0 95.0,624.1 96.8,624.1 96.8,613.5 97.9,613.5 97.9,600.0 98.0,600.0 98.0,582.0 98.6,582.0 98.6,579.3 100.1,579.3 100.1,573.0 100.4,573.0 100.4,571.6 102.2,571.6 102.2,563.3 103.5,563.3 103.5,557.3 104.0,557.3 104.0,555.8 105.8,555.8 105.8,550.4 107.6,550.4 107.6,545.0 108.0,545.0 108.0,543.8 109.4,543.8 109.4,541.7 111.2,541.7 111.2,539.0 112.5,539.0 112.5,537.0 113.0,537.0 113.0,536.6 114.8,536.6 114.8,535.2 116.6,535.2 116.6,533.7 118.1,533.7 118.1,532.5 118.4,532.5 118.4,532.5 120.2,532.5 120.2,532.6 122.0,532.6 122.0,532.8 122.6,532.8 122.6,532.8 123.8,532.8 123.8,534.3 125.6,534.3 125.6,536.5 126.0,536.5 126.0,537.0 127.1,537.0 127.1,550.5 127.2,550.5 127.2,569.6 127.4,569.6 127.4,569.9 129.2,569.9 129.2,571.7 130.5,571.7 130.5,573.0 131.0,573.0 131.0,572.6 132.8,572.6 132.8,571.2 133.0,571.2 133.0,571.0 134.6,571.0 134.6,572.5 135.0,572.5 135.0,572.9 136.4,572.9 136.4,574.7 137.5,574.7 137.5,576.2 138.2,576.2 138.2,579.0 139.1,579.0 139.1,582.7 139.6,582.7 139.6,609.0 140.0,609.0 140.0,610.3 141.6,610.3 141.6,615.6 141.8,615.6 141.8,616.3 143.6,616.3 143.6,622.6 144.9,622.6 144.9,627.1 145.4,627.1 145.4,628.1 147.2,628.1 147.2,631.7 148.2,631.7 148.2,633.7 149.0,633.7 149.0,634.5 150.8,634.5 150.8,636.4 151.4,636.4 151.4,637.0 152.6,637.0 152.6,638.8 154.4,638.8 154.4,641.5 154.7,641.5 154.7,641.9 156.2,641.9 156.2,644.9 158.0,644.9 158.0,648.5 159.8,648.5 159.8,652.0 161.3,652.0 161.3,655.0 161.6,655.0 161.6,655.5 163.4,655.5 163.4,658.2 164.6,658.2 164.6,660.0 165.2,660.0 165.2,660.9 166.2,660.9 166.2,662.4 167.0,662.4 167.0,632.4 167.1,632.4 167.1,628.7 168.8,628.7 168.8,630.5 169.5,630.5 169.5,631.2 170.6,631.2 170.6,634.5 172.0,634.5 172.0,638.6 172.4,638.6 172.4,639.8 174.2,639.8 174.2,645.2 175.3,645.2 175.3,648.5 176.0,648.5 176.0,649.5 177.8,649.5 177.8,652.2 178.6,652.2 178.6,653.4 179.4,653.4 179.4,622.2 179.6,622.2 179.6,622.0 181.4,622.0 181.4,620.2 182.7,620.2 182.7,618.9 183.2,618.9 183.2,618.4 185.0,618.4 185.0,616.6 186.0,616.6 186.0,615.6 186.8,615.6 186.8,614.4 188.6,614.4 188.6,611.6 189.2,611.6 189.2,610.7 190.4,610.7 190.4,608.9 192.2,608.9 192.2,606.2 192.5,606.2 192.5,605.7 194.0,605.7 194.0,602.8 195.0,602.8 195.0,600.8 195.8,600.8 195.8,599.1 196.8,599.1 196.8,597.0 197.6,597.0 197.6,595.5 199.4,595.5 199.4,592.3 201.2,592.3 201.2,589.0 201.3,589.0 201.3,588.8 203.0,588.8 203.0,583.0 204.6,583.0 204.6,577.5 204.8,577.5 204.8,576.3 206.6,576.3 206.6,565.8 206.9,565.8 206.9,564.0 208.0,564.0 208.0,555.0 208.4,555.0 208.4,561.5 209.1,561.5 209.1,573.0 210.2,573.0 210.2,571.5 212.0,571.5 212.0,569.2 212.5,569.2 212.5,568.5 213.8,568.5 213.8,566.4 215.6,566.4 215.6,563.4 215.9,563.4 215.9,562.9 217.4,562.9 217.4,561.4 219.2,561.4 219.2,559.6 219.3,559.6 219.3,559.5 220.4,559.5 220.4,588.8 221.0,588.8 221.0,590.0 222.8,590.0 222.8,593.5 223.8,593.5 223.8,595.5 224.6,595.5 224.6,596.5 226.4,596.5 226.4,598.6 228.2,598.6 228.2,600.7 229.5,600.7 229.5,602.3 230.0,602.3 230.0,603.5 231.8,603.5 231.8,608.0 233.6,608.0 233.6,612.5 234.0,612.5 234.0,613.5 235.4,613.5 235.4,617.7 237.2,617.7 237.2,623.1 238.5,623.1 238.5,627.0 239.0,627.0 239.0,628.5 240.8,628.5 240.8,633.9 242.6,633.9 242.6,639.3 243.0,639.3 243.0,640.5 244.4,640.5 244.4,644.7 246.2,644.7 246.2,650.1 247.5,650.1 247.5,654.0 248.0,654.0 248.0,655.5 249.8,655.5 249.8,660.8 250.2,660.8 250.2,627.0 251.6,627.0 251.6,630.3 253.1,630.3 253.1,633.8 253.4,633.8 253.4,634.8 255.2,634.8 255.2,640.7 256.5,640.7 256.5,645.0 257.0,645.0 257.0,646.3 258.8,646.3 258.8,651.1 259.9,651.1 259.9,654.0 260.6,654.0 260.6,635.4 261.0,635.4 261.0,624.8 262.4,624.8 262.4,622.7 264.2,622.7 264.2,620.0 265.5,620.0 265.5,618.0 266.0,618.0 266.0,617.0 267.8,617.0 267.8,613.4 269.6,613.4 269.6,609.8 270.0,609.8 270.0,609.0 271.4,609.0 271.4,606.2 273.2,606.2 273.2,602.6 274.5,602.6 274.5,600.0 275.0,600.0 275.0,598.8 276.8,598.8 276.8,594.3 278.6,594.3 278.6,589.8 279.0,589.8 279.0,588.8 280.4,588.8 280.4,584.6 282.2,584.6 282.2,579.2 283.5,579.2 283.5,575.3 284.0,575.3 284.0,573.8 285.8,573.8 285.8,568.4 287.6,568.4 287.6,563.0 288.0,563.0 288.0,561.8 289.4,561.8 289.4,557.7 290.3,557.7 290.3,555.0 291.2,555.0 291.2,579.0 291.4,579.0 291.4,584.3 293.0,584.3 293.0,579.0 294.8,579.0 294.8,573.0 296.6,573.0 296.6,568.1 298.1,568.1 298.1,564.0 298.4,564.0 298.4,563.7 300.2,563.7 300.2,562.0 300.4,562.0 300.4,561.8 302.0,561.8 302.0,584.7 302.6,584.7 302.6,593.3 303.8,593.3 303.8,594.1 305.6,594.1 305.6,595.2 306.0,595.2 306.0,595.5 307.4,595.5 307.4,597.9 309.2,597.9 309.2,600.9 310.0,600.9 310.0,602.3" fill="none" stroke="#0070c0" stroke-width="2.2" stroke-linejoin="round" stroke-linecap="butt" />
<text x="79.8" y="576.4" font-size="16" font-style="italic">i<tspan font-size="11.5" dy="3">fa</tspan></text>
<text x="111.2" y="561.8" font-size="16" font-style="italic">i<tspan font-size="11.5" dy="3">fc</tspan></text>
<text x="153.8" y="564" font-size="16" font-style="italic">i<tspan font-size="11.5" dy="3">fb</tspan></text>
<polyline points="407.5,596.2 408.5,596.6 409.5,597.0 410.5,597.3 411.5,597.5 412.5,597.7 413.5,597.8 414.5,597.9 415.5,597.9 416.5,597.8 417.5,597.7 418.5,597.5 419.5,597.2 420.5,596.9 421.5,596.5 422.5,596.1 423.5,595.6 424.5,595.1 425.5,594.4 426.5,593.8 427.5,593.1 428.5,592.3 429.5,591.5 430.5,590.6 431.5,589.7 432.5,588.8 433.5,587.8 434.5,586.7 435.5,585.7 436.5,584.6 437.5,583.4 438.5,582.3 439.5,581.1 440.5,579.9 441.5,578.6 442.5,577.4 443.5,576.1 444.5,574.9 445.5,573.6 446.5,572.3 447.5,571.0 448.5,569.8 449.5,568.5 450.5,567.2 451.5,566.0 452.5,564.7 453.5,563.5 454.5,562.3 455.5,561.1 456.5,560.0 457.5,558.8 458.5,557.7 459.5,556.7 460.5,555.6 461.5,554.7 462.5,553.7 463.5,552.8 464.5,552.0 465.5,551.1 466.5,550.4 467.5,549.7 468.5,549.0 469.5,548.4 470.5,547.9 471.5,547.4 472.5,547.0 473.5,546.6 474.5,546.3 475.5,546.1 476.5,545.9 477.5,545.8 478.5,545.7 479.5,545.7 480.5,545.8 481.5,545.9 482.5,546.1 483.5,546.3 484.5,546.7 485.5,547.0 486.5,547.4 487.5,547.9 488.5,548.5 489.5,549.1 490.5,549.7 491.5,550.4 492.5,551.1 493.5,551.9 494.5,552.8 495.5,553.7 496.5,554.6 497.5,555.6 498.5,556.6 499.5,557.6 500.5,558.7 501.5,559.8 502.5,560.9 503.5,562.1 504.5,563.3 505.5,564.5 506.5,565.7 507.5,566.9 508.5,568.2 509.5,569.4 510.5,570.7 511.5,571.9 512.5,573.2 513.5,574.4 514.5,575.7 515.5,576.9 516.5,578.2 517.5,579.4 518.5,580.6 519.5,581.8 520.5,582.9 521.5,584.0 522.5,585.1 523.5,586.2 524.5,587.2 525.5,588.2 526.5,589.2 527.5,590.1 528.5,591.0 529.5,591.8 530.5,592.6 531.5,593.4 532.5,594.0 533.5,594.7 534.5,595.3 535.5,595.8 536.5,596.2 537.5,596.7 538.5,597.0 539.5,597.3 540.5,597.5 541.5,597.7 542.5,597.8 543.5,597.9 544.5,597.9 545.5,597.8 546.5,597.7 547.5,597.5 548.5,597.2 549.5,596.9 550.5,596.5 551.5,596.1 552.5,595.6 553.5,595.1 554.5,594.4 555.5,593.8 556.5,593.1 557.5,592.3 558.5,591.5 559.5,590.6 560.5,589.7 561.5,588.8 562.5,587.8 563.5,586.7 564.5,585.7 565.5,584.6 566.5,583.4 567.5,582.3 568.5,581.1 569.5,579.9 570.5,578.6 571.5,577.4 572.5,576.1 573.5,574.9 574.5,573.6 575.5,572.3 576.5,571.0 577.5,569.8 578.5,568.5 579.5,567.2 580.5,566.0 581.5,564.7 582.5,563.5 583.5,562.3 584.5,561.1 585.5,560.0 586.5,558.8 587.5,557.7 588.5,556.7 589.5,555.6 590.5,554.7 591.5,553.7 592.5,552.8 593.5,552.0 594.5,551.1 595.5,550.4 596.5,549.7 597.5,549.0 598.5,548.4 599.5,547.9 600.5,547.4 601.5,547.0 602.5,546.6 603.5,546.3 604.5,546.1 605.5,545.9 606.5,545.8 607.5,545.7 608.5,545.7 609.5,545.8 610.5,545.9 611.5,546.1 612.5,546.4 613.5,546.7 614.5,547.1 615.5,547.5 616.5,548.0 617.5,548.5 618.5,549.2 619.5,549.8 620.5,550.5 621.5,551.3 622.5,552.1 623.5,553.0 624.5,553.9 625.5,554.8 626.5,555.8 627.5,556.9 628.5,557.9 629.5,559.0 630.5,560.2 631.5,561.3 632.5,562.5 633.5,563.7 634.5,565.0 635.5,566.2 636.5,567.5 637.5,568.7 638.5,570.0 639.5,571.3 640.5,572.6 641.5,573.8 642.5,575.1 643.5,576.4 644.5,577.6 645.5,578.9 646.5,580.1 647.5,581.3 648.5,582.5 649.5,583.6 650.5,584.8 651.5,585.9 652.5,586.9 653.5,588.0 654.5,588.9 655.5,589.9 656.5,590.8 657.5,591.6 658.5,592.5 659.5,593.2 660.5,593.9 661.5,594.6 662.5,595.2 663.5,595.7 664.5,596.2 665.5,596.6" fill="none" stroke="#ff0000" stroke-width="3.0" stroke-linejoin="round" stroke-linecap="round" stroke-dasharray="2,5.3"/>
<polyline points="407.5,578.2 409.5,578.2 409.5,575.9 410.9,575.9 410.9,574.3 411.5,574.3 411.5,573.8 413.5,573.8 413.5,572.2 415.5,572.2 415.5,570.5 415.8,570.5 415.8,570.3 417.5,570.3 419.5,570.3 421.5,570.3 422.7,570.3 423.5,570.3 423.5,571.3 424.7,571.3 424.7,572.9 425.5,572.9 427.5,572.9 429.5,572.9 431.5,572.9 433.5,572.9 435.5,572.9 437.5,572.9 439.5,572.9 441.5,572.9 443.5,572.9 444.4,572.9 445.5,572.9 445.5,572.7 447.5,572.7 447.5,572.4 449.5,572.4 449.5,572.1 451.5,572.1 451.5,571.8 452.3,571.8 452.3,571.7 453.5,571.7 453.5,571.3 455.5,571.3 455.5,570.7 457.5,570.7 457.5,570.1 459.5,570.1 459.5,569.5 460.2,569.5 460.2,569.3 461.5,569.3 461.5,569.0 463.5,569.0 463.5,568.5 465.5,568.5 465.5,568.0 467.5,568.0 467.5,567.5 468.1,567.5 468.1,567.4 469.5,567.4 469.5,567.1 471.5,567.1 471.5,566.7 473.5,566.7 473.5,566.3 475.5,566.3 475.5,565.9 477.5,565.9 477.5,565.5 477.9,565.5 477.9,565.4 479.5,565.4 481.5,565.4 483.5,565.4 485.5,565.4 487.5,565.4 489.5,565.4 491.5,565.4 493.5,565.4 495.5,565.4 495.7,565.4 497.5,565.4 497.5,566.1 499.5,566.1 499.5,566.9 501.5,566.9 501.5,567.6 503.5,567.6 503.5,568.4 505.5,568.4 505.5,568.9 507.5,568.9 507.5,569.4 509.5,569.4 509.5,569.8 511.4,569.8 511.4,570.3 511.5,570.3 511.5,570.4 513.5,570.4 513.5,571.4 515.5,571.4 515.5,572.4 517.5,572.4 517.5,573.4 519.3,573.4 519.3,574.3 519.5,574.3 519.5,574.4 521.5,574.4 521.5,575.1 523.5,575.1 523.5,575.8 525.5,575.8 525.5,576.6 527.2,576.6 527.2,577.2 527.5,577.2 527.5,577.3 529.5,577.3 529.5,577.9 531.5,577.9 531.5,578.5 533.5,578.5 533.5,579.0 535.1,579.0 535.1,579.5 535.5,579.5 535.5,579.6 537.5,579.6 537.5,580.1 539.5,580.1 539.5,580.7 541.5,580.7 541.5,581.2 542.9,581.2 542.9,581.6 543.5,581.6 545.5,581.6 547.5,581.6 549.5,581.6 551.5,581.6 553.5,581.6 555.5,581.6 556.7,581.6 557.5,581.6 557.5,581.2 559.5,581.2 559.5,580.3 561.5,580.3 561.5,579.4 563.5,579.4 563.5,578.5 565.5,578.5 565.5,577.6 566.5,577.6 566.5,577.2 567.5,577.2 567.5,576.7 569.5,576.7 569.5,575.7 571.5,575.7 571.5,574.7 573.5,574.7 573.5,573.7 574.4,573.7 574.4,573.3 575.5,573.3 575.5,572.6 577.5,572.6 577.5,571.4 579.5,571.4 579.5,570.1 581.5,570.1 581.5,568.9 582.3,568.9 582.3,568.4 583.5,568.4 583.5,567.8 585.5,567.8 585.5,566.8 587.5,566.8 587.5,565.8 589.5,565.8 589.5,564.8 590.2,564.8 590.2,564.4 591.5,564.4 591.5,563.9 593.5,563.9 593.5,563.2 595.5,563.2 595.5,562.5 597.5,562.5 597.5,561.7 598.1,561.7 598.1,561.5 599.5,561.5 599.5,561.0 601.5,561.0 601.5,560.3 603.5,560.3 603.5,559.7 604.0,559.7 604.0,559.5 605.5,559.5 607.5,559.5 609.5,559.5 611.5,559.5 613.5,559.5 615.5,559.5 617.5,559.5 617.8,559.5 619.5,559.5 619.5,560.3 621.5,560.3 621.5,561.3 623.5,561.3 623.5,562.3 625.5,562.3 625.5,563.3 625.7,563.3 625.7,563.4 627.5,563.4 627.5,564.3 629.5,564.3 629.5,565.3 631.5,565.3 631.5,566.4 633.5,566.4 633.5,567.4 635.5,567.4 635.5,568.6 637.5,568.6 637.5,569.9 639.5,569.9 639.5,571.1 641.4,571.1 641.4,572.3 641.5,572.3 641.5,572.4 643.5,572.4 643.5,573.6 645.5,573.6 645.5,574.8 647.5,574.8 647.5,576.1 649.3,576.1 649.3,577.2 649.5,577.2 649.5,577.3 651.5,577.3 651.5,578.0 653.5,578.0 653.5,578.8 655.5,578.8 655.5,579.6 657.2,579.6 657.2,580.2 657.5,580.2 657.5,580.3 659.5,580.3 659.5,580.6 661.5,580.6 661.5,580.9 663.5,580.9 663.5,581.3 665.5,581.3 665.5,581.6" fill="none" stroke="#000000" stroke-width="1.8" stroke-linejoin="round" stroke-linecap="butt" />
<polyline points="409.9,644.3 410.9,645.5 411.9,646.6 412.9,647.9 413.9,649.2 414.9,650.6 415.9,652.0 416.9,653.4 417.9,654.9 418.9,656.4 419.9,658.0 420.9,659.6 421.9,661.2 422.9,662.8 423.9,664.5 424.9,666.1 425.9,667.8 426.9,669.5 427.9,671.2 428.9,672.9 429.9,674.6 430.9,676.2 431.9,677.9 432.9,679.6 433.9,681.2 434.9,682.8 435.9,684.4 436.9,685.9 437.9,687.4 438.9,688.9 439.9,690.3 440.9,691.7 441.9,693.0 442.9,694.3 443.9,695.5 444.9,696.7 445.9,697.8 446.9,698.9 447.9,699.8 448.9,700.8 449.9,701.6 450.9,702.4 451.9,703.1 452.9,703.7 453.9,704.2 454.9,704.7 455.9,705.1 456.9,705.4 457.9,705.6 458.9,705.8 459.9,705.8 460.9,705.8 461.9,705.7 462.9,705.6 463.9,705.3 464.9,705.0 465.9,704.5 466.9,704.0 467.9,703.5 468.9,702.8 469.9,702.1 470.9,701.3 471.9,700.4 472.9,699.5 473.9,698.5 474.9,697.4 475.9,696.2 476.9,695.1 477.9,693.8 478.9,692.5 479.9,691.1 480.9,689.7 481.9,688.3 482.9,686.8 483.9,685.3 484.9,683.7 485.9,682.1 486.9,680.5 487.9,678.9 488.9,677.2 489.9,675.6 490.9,673.9 491.9,672.2 492.9,670.5 493.9,668.8 494.9,667.1 495.9,665.5 496.9,663.8 497.9,662.1 498.9,660.5 499.9,658.9 500.9,657.3 501.9,655.8 502.9,654.3 503.9,652.8 504.9,651.4 505.9,650.0 506.9,648.7 507.9,647.4 508.9,646.2 509.9,645.0 510.9,643.9 511.9,642.8 512.9,641.9 513.9,640.9 514.9,640.1 515.9,639.3 516.9,638.6 517.9,638.0 518.9,637.5 519.9,637.0 520.9,636.6 521.9,636.3 522.9,636.1 523.9,635.9 524.9,635.9 525.9,635.9 526.9,636.0 527.9,636.2 528.9,636.4 529.9,636.8 530.9,637.3 531.9,637.8 532.9,638.4 533.9,639.1 534.9,639.9 535.9,640.7 536.9,641.6 537.9,642.6 538.9,643.7 539.9,644.8 540.9,646.0 541.9,647.3 542.9,648.6 543.9,650.0 544.9,651.4 545.9,652.9 546.9,654.4 547.9,656.0 548.9,657.6 549.9,659.2 550.9,660.9 551.9,662.6 552.9,664.3 553.9,666.0 554.9,667.7 555.9,669.5 556.9,671.2 557.9,672.9 558.9,674.7 559.9,676.4 560.9,678.1 561.9,679.8 562.9,681.5 563.9,683.1 564.9,684.8 565.9,686.3 566.9,687.9 567.9,689.4 568.9,690.9 569.9,692.3 570.9,693.6 571.9,694.9 572.9,696.1 573.9,697.3 574.9,698.4 575.9,699.5 576.9,700.4 577.9,701.3 578.9,702.2 579.9,702.9 580.9,703.6 581.9,704.1 582.9,704.6 583.9,705.0 584.9,705.4 585.9,705.6 586.9,705.8 587.9,705.8 588.9,705.8 589.9,705.7 590.9,705.6 591.9,705.3 592.9,705.0 593.9,704.5 594.9,704.0 595.9,703.5 596.9,702.8 597.9,702.1 598.9,701.3 599.9,700.4 600.9,699.5 601.9,698.5 602.9,697.4 603.9,696.2 604.9,695.1 605.9,693.8 606.9,692.5 607.9,691.1 608.9,689.7 609.9,688.3 610.9,686.8 611.9,685.3 612.9,683.7 613.9,682.1 614.9,680.5 615.9,678.9 616.9,677.2 617.9,675.6 618.9,673.9 619.9,672.2 620.9,670.5 621.9,668.8 622.9,667.1 623.9,665.5 624.9,663.8 625.9,662.1 626.9,660.5 627.9,658.9 628.9,657.3 629.9,655.8 630.9,654.3 631.9,652.8 632.9,651.4 633.9,650.0 634.9,648.7 635.9,647.4 636.9,646.2 637.9,645.0 638.9,643.9 639.9,642.8 640.9,641.9 641.9,640.9 642.9,640.1 643.9,639.3 644.9,638.6 645.9,638.0 646.9,637.5 647.9,637.0 648.9,636.6 649.9,636.3 650.9,636.1 651.9,635.9 652.9,635.9 653.9,635.9 654.9,636.0 655.9,636.1 656.9,636.4 657.9,636.7 658.9,637.2 659.9,637.7 660.9,638.2 661.9,638.9 662.9,639.6 663.9,640.4 664.9,641.3 665.9,642.2 666.9,643.2" fill="none" stroke="#0070c0" stroke-width="3.0" stroke-linejoin="round" stroke-linecap="round" stroke-dasharray="2,5.3"/>
<polyline points="408.9,652.6 409.9,652.6 409.9,656.5 410.9,656.5 410.9,666.4 411.9,666.4 411.9,677.2 412.9,677.2 412.9,676.7 413.9,676.7 413.9,676.2 414.9,676.2 414.9,675.2 416.8,675.2 416.8,673.3 416.9,673.3 416.9,673.5 418.8,673.5 418.8,677.2 418.9,677.2 418.9,676.5 419.5,676.5 419.5,672.0 420.9,672.0 420.9,671.5 422.9,671.5 422.9,670.9 424.7,670.9 424.7,670.3 424.9,670.3 424.9,670.3 426.9,670.3 426.9,670.7 428.9,670.7 428.9,671.0 430.9,671.0 430.9,671.4 432.9,671.4 432.9,671.7 434.9,671.7 434.9,672.0 436.5,672.0 436.5,672.3 436.9,672.3 436.9,672.5 438.9,672.5 438.9,673.5 440.9,673.5 440.9,674.5 442.4,674.5 442.4,675.2 442.9,675.2 442.9,675.3 444.9,675.3 444.9,675.5 446.9,675.5 446.9,675.8 448.9,675.8 448.9,676.0 450.3,676.0 450.3,676.2 450.9,676.2 450.9,676.4 452.9,676.4 452.9,677.0 454.9,677.0 454.9,677.6 456.9,677.6 456.9,678.2 458.2,678.2 458.2,678.6 458.9,678.6 458.9,678.6 460.9,678.6 460.9,678.7 462.9,678.7 462.9,678.8 464.9,678.8 464.9,678.8 466.9,678.8 466.9,678.9 468.9,678.9 468.9,679.0 470.9,679.0 470.9,679.0 472.9,679.0 472.9,679.1 474.9,679.1 474.9,679.2 476.0,679.2 476.0,679.2 476.9,679.2 476.9,679.0 478.9,679.0 478.9,678.5 480.9,678.5 480.9,677.9 482.9,677.9 482.9,677.4 483.8,677.4 483.8,677.2 484.9,677.2 484.9,676.5 486.9,676.5 486.9,675.3 488.9,675.3 488.9,674.0 490.9,674.0 490.9,672.8 491.7,672.8 491.7,672.3 492.9,672.3 492.9,671.3 494.9,671.3 494.9,669.6 496.9,669.6 496.9,668.0 497.6,668.0 497.6,667.4 498.9,667.4 498.9,666.4 500.9,666.4 500.9,664.9 502.9,664.9 502.9,663.4 504.9,663.4 504.9,661.9 505.5,661.9 505.5,661.5 506.9,661.5 506.9,660.8 508.9,660.8 508.9,659.8 510.9,659.8 510.9,658.8 512.9,658.8 512.9,657.8 513.4,657.8 513.4,657.5 514.9,657.5 514.9,657.2 516.9,657.2 516.9,656.8 518.9,656.8 518.9,656.4 520.9,656.4 520.9,656.0 522.9,656.0 522.9,655.6 523.2,655.6 523.2,655.5 524.9,655.5 526.9,655.5 528.9,655.5 530.9,655.5 532.9,655.5 534.9,655.5 535.1,655.5 536.9,655.5 536.9,656.0 538.9,656.0 538.9,656.5 540.9,656.5 540.9,657.0 542.9,657.0 542.9,657.5 544.9,657.5 544.9,660.3 545.8,660.3 545.8,661.5 546.9,661.5 546.9,661.7 548.9,661.7 548.9,662.1 550.8,662.1 550.8,662.4 550.9,662.4 550.9,662.5 552.9,662.5 552.9,664.5 554.9,664.5 554.9,666.5 556.7,666.5 556.7,668.3 556.9,668.3 556.9,668.5 558.9,668.5 558.9,670.9 560.9,670.9 560.9,673.2 562.6,673.2 562.6,675.2 562.9,675.2 562.9,675.5 564.9,675.5 564.9,677.8 566.9,677.8 566.9,680.0 568.9,680.0 568.9,682.3 570.5,682.3 570.5,684.1 570.9,684.1 570.9,684.5 572.9,684.5 572.9,686.5 574.9,686.5 574.9,688.5 576.9,688.5 576.9,690.5 578.4,690.5 578.4,692.0 578.9,692.0 578.9,692.2 580.9,692.2 580.9,692.9 582.9,692.9 582.9,693.7 584.9,693.7 584.9,694.4 586.2,694.4 586.2,694.9 586.9,694.9 588.9,694.9 590.9,694.9 592.9,694.9 594.1,694.9 594.9,694.9 594.9,694.6 596.9,694.6 596.9,694.0 598.9,694.0 598.9,693.4 600.0,693.4 600.0,693.0 600.9,693.0 600.9,692.4 602.9,692.4 602.9,691.1 604.9,691.1 604.9,689.7 606.0,689.7 606.0,689.0 606.9,689.0 606.9,687.9 608.9,687.9 608.9,685.6 610.9,685.6 610.9,683.3 611.9,683.3 611.9,682.1 612.9,682.1 612.9,681.1 614.9,681.1 614.9,679.1 616.9,679.1 616.9,677.1 618.9,677.1 618.9,675.1 619.7,675.1 619.7,674.3 620.9,674.3 620.9,672.9 622.9,672.9 622.9,670.7 624.9,670.7 624.9,668.4 626.9,668.4 626.9,666.2 627.6,666.2 627.6,665.4 628.9,665.4 628.9,663.6 630.9,663.6 630.9,660.9 632.9,660.9 632.9,658.2 634.9,658.2 634.9,655.4 635.5,655.4 635.5,654.6 636.9,654.6 636.9,653.7 638.9,653.7 638.9,652.4 640.9,652.4 640.9,651.2 642.9,651.2 642.9,649.9 643.4,649.9 643.4,649.6 644.9,649.6 644.9,648.9 646.9,648.9 646.9,647.9 648.9,647.9 648.9,646.9 649.3,646.9 649.3,646.7 650.9,646.7 652.9,646.7 654.9,646.7 656.9,646.7 658.9,646.7 659.2,646.7 660.9,646.7 660.9,647.5 662.9,647.5 662.9,648.5 664.9,648.5 664.9,649.5 666.9,649.5 666.9,650.5 667.0,650.5 667.0,650.6" fill="none" stroke="#000000" stroke-width="1.8" stroke-linejoin="round" stroke-linecap="butt" />
<line x1="545.8" y1="659" x2="545.8" y2="666" stroke="#000000" stroke-width="1.4"/>
<line x1="573" y1="682" x2="573" y2="690" stroke="#000000" stroke-width="1.4"/>
<line x1="606" y1="685" x2="606" y2="692" stroke="#000000" stroke-width="1.4"/>
<line x1="636.5" y1="651" x2="636.5" y2="659" stroke="#000000" stroke-width="1.4"/>
<line x1="439.5" y1="670" x2="439.5" y2="678" stroke="#000000" stroke-width="1.4"/>
<line x1="481" y1="674" x2="481" y2="681" stroke="#000000" stroke-width="1.4"/>
<line x1="518" y1="656" x2="518" y2="661" stroke="#000000" stroke-width="1.4"/>
<text x="497.4" y="549.7" font-size="16" font-style="italic">V<tspan font-size="11.5" dy="3">sb</tspan><tspan font-style="normal" dy="-3">/30</tspan></text>
<text x="542.8" y="576.2" font-size="16" font-style="italic">i<tspan font-size="11.5" dy="3">sb</tspan></text>
<text x="463" y="672.7" font-size="16" font-style="italic">i<tspan font-size="11.5" dy="3">sc</tspan></text>
<text x="484.6" y="702.8" font-size="16" font-style="italic">V<tspan font-size="11.5" dy="3">sc</tspan><tspan font-style="normal" dy="-3">/30</tspan></text></svg>
</body></html>
